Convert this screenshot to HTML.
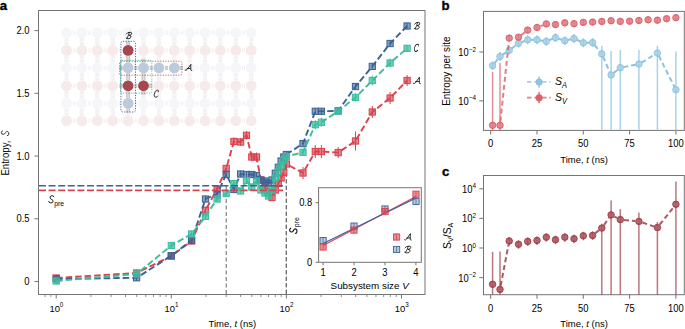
<!DOCTYPE html><html><head><meta charset="utf-8"><style>html,body{margin:0;padding:0;background:#fff;overflow:hidden}svg{display:block}</style></head><body><svg width="685" height="329" viewBox="0 0 685 329" font-family="Liberation Sans, sans-serif" fill="#000"><rect x="0" y="0" width="685" height="329" fill="#fff"/>
<rect x="72.85" y="30.7" width="2.79" height="4.2" fill="#f2f2f2"/>
<rect x="73.75" y="30.7" width="1" height="4.2" fill="#fafafa"/>
<rect x="64.5" y="38.2" width="4.2" height="6.8" fill="#f2f2f2"/>
<rect x="64.5" y="41.1" width="4.2" height="1" fill="#fafafa"/>
<rect x="88.24" y="30.7" width="2.79" height="4.2" fill="#f2f2f2"/>
<rect x="89.14" y="30.7" width="1" height="4.2" fill="#fafafa"/>
<rect x="79.8" y="38.2" width="4.2" height="6.8" fill="#f2f2f2"/>
<rect x="79.8" y="41.1" width="4.2" height="1" fill="#fafafa"/>
<rect x="103.63" y="30.7" width="2.79" height="4.2" fill="#f2f2f2"/>
<rect x="104.53" y="30.7" width="1" height="4.2" fill="#fafafa"/>
<rect x="95.2" y="38.2" width="4.2" height="6.8" fill="#f2f2f2"/>
<rect x="95.2" y="41.1" width="4.2" height="1" fill="#fafafa"/>
<rect x="119.02" y="30.7" width="2.79" height="4.2" fill="#f2f2f2"/>
<rect x="119.92" y="30.7" width="1" height="4.2" fill="#fafafa"/>
<rect x="110.6" y="38.2" width="4.2" height="6.8" fill="#f2f2f2"/>
<rect x="110.6" y="41.1" width="4.2" height="1" fill="#fafafa"/>
<rect x="134.41" y="30.7" width="2.79" height="4.2" fill="#f2f2f2"/>
<rect x="135.31" y="30.7" width="1" height="4.2" fill="#fafafa"/>
<rect x="126.0" y="38.2" width="4.2" height="6.8" fill="#f2f2f2"/>
<rect x="126.0" y="41.1" width="4.2" height="1" fill="#fafafa"/>
<rect x="149.80" y="30.7" width="2.79" height="4.2" fill="#f2f2f2"/>
<rect x="150.70" y="30.7" width="1" height="4.2" fill="#fafafa"/>
<rect x="141.4" y="38.2" width="4.2" height="6.8" fill="#f2f2f2"/>
<rect x="141.4" y="41.1" width="4.2" height="1" fill="#fafafa"/>
<rect x="165.19" y="30.7" width="2.79" height="4.2" fill="#f2f2f2"/>
<rect x="166.09" y="30.7" width="1" height="4.2" fill="#fafafa"/>
<rect x="156.8" y="38.2" width="4.2" height="6.8" fill="#f2f2f2"/>
<rect x="156.8" y="41.1" width="4.2" height="1" fill="#fafafa"/>
<rect x="180.58" y="30.7" width="2.79" height="4.2" fill="#f2f2f2"/>
<rect x="181.48" y="30.7" width="1" height="4.2" fill="#fafafa"/>
<rect x="172.2" y="38.2" width="4.2" height="6.8" fill="#f2f2f2"/>
<rect x="172.2" y="41.1" width="4.2" height="1" fill="#fafafa"/>
<rect x="195.97" y="30.7" width="2.79" height="4.2" fill="#f2f2f2"/>
<rect x="196.87" y="30.7" width="1" height="4.2" fill="#fafafa"/>
<rect x="187.6" y="38.2" width="4.2" height="6.8" fill="#f2f2f2"/>
<rect x="187.6" y="41.1" width="4.2" height="1" fill="#fafafa"/>
<rect x="211.36" y="30.7" width="2.79" height="4.2" fill="#f2f2f2"/>
<rect x="212.26" y="30.7" width="1" height="4.2" fill="#fafafa"/>
<rect x="203.0" y="38.2" width="4.2" height="6.8" fill="#f2f2f2"/>
<rect x="203.0" y="41.1" width="4.2" height="1" fill="#fafafa"/>
<rect x="226.75" y="30.7" width="2.79" height="4.2" fill="#f2f2f2"/>
<rect x="227.65" y="30.7" width="1" height="4.2" fill="#fafafa"/>
<rect x="218.3" y="38.2" width="4.2" height="6.8" fill="#f2f2f2"/>
<rect x="218.3" y="41.1" width="4.2" height="1" fill="#fafafa"/>
<rect x="242.14" y="30.7" width="2.79" height="4.2" fill="#f2f2f2"/>
<rect x="243.04" y="30.7" width="1" height="4.2" fill="#fafafa"/>
<rect x="233.7" y="38.2" width="4.2" height="6.8" fill="#f2f2f2"/>
<rect x="233.7" y="41.1" width="4.2" height="1" fill="#fafafa"/>
<rect x="249.1" y="38.2" width="4.2" height="6.8" fill="#f2f2f2"/>
<rect x="249.1" y="41.1" width="4.2" height="1" fill="#fafafa"/>
<rect x="72.85" y="48.3" width="2.79" height="4.2" fill="#f2f2f2"/>
<rect x="73.75" y="48.3" width="1" height="4.2" fill="#fafafa"/>
<rect x="64.5" y="55.8" width="4.2" height="6.7" fill="#f2f2f2"/>
<rect x="64.5" y="58.6" width="4.2" height="1" fill="#fafafa"/>
<rect x="88.24" y="48.3" width="2.79" height="4.2" fill="#f2f2f2"/>
<rect x="89.14" y="48.3" width="1" height="4.2" fill="#fafafa"/>
<rect x="79.8" y="55.8" width="4.2" height="6.7" fill="#f2f2f2"/>
<rect x="79.8" y="58.6" width="4.2" height="1" fill="#fafafa"/>
<rect x="103.63" y="48.3" width="2.79" height="4.2" fill="#f2f2f2"/>
<rect x="104.53" y="48.3" width="1" height="4.2" fill="#fafafa"/>
<rect x="95.2" y="55.8" width="4.2" height="6.7" fill="#f2f2f2"/>
<rect x="95.2" y="58.6" width="4.2" height="1" fill="#fafafa"/>
<rect x="119.02" y="48.3" width="2.79" height="4.2" fill="#f2f2f2"/>
<rect x="119.92" y="48.3" width="1" height="4.2" fill="#fafafa"/>
<rect x="110.6" y="55.8" width="4.2" height="6.7" fill="#f2f2f2"/>
<rect x="110.6" y="58.6" width="4.2" height="1" fill="#fafafa"/>
<rect x="134.41" y="48.3" width="2.79" height="4.2" fill="#f2f2f2"/>
<rect x="135.31" y="48.3" width="1" height="4.2" fill="#fafafa"/>
<rect x="126.0" y="55.8" width="4.2" height="6.7" fill="#f2f2f2"/>
<rect x="126.0" y="58.6" width="4.2" height="1" fill="#fafafa"/>
<rect x="149.80" y="48.3" width="2.79" height="4.2" fill="#f2f2f2"/>
<rect x="150.70" y="48.3" width="1" height="4.2" fill="#fafafa"/>
<rect x="141.4" y="55.8" width="4.2" height="6.7" fill="#f2f2f2"/>
<rect x="141.4" y="58.6" width="4.2" height="1" fill="#fafafa"/>
<rect x="165.19" y="48.3" width="2.79" height="4.2" fill="#f2f2f2"/>
<rect x="166.09" y="48.3" width="1" height="4.2" fill="#fafafa"/>
<rect x="156.8" y="55.8" width="4.2" height="6.7" fill="#f2f2f2"/>
<rect x="156.8" y="58.6" width="4.2" height="1" fill="#fafafa"/>
<rect x="180.58" y="48.3" width="2.79" height="4.2" fill="#f2f2f2"/>
<rect x="181.48" y="48.3" width="1" height="4.2" fill="#fafafa"/>
<rect x="172.2" y="55.8" width="4.2" height="6.7" fill="#f2f2f2"/>
<rect x="172.2" y="58.6" width="4.2" height="1" fill="#fafafa"/>
<rect x="195.97" y="48.3" width="2.79" height="4.2" fill="#f2f2f2"/>
<rect x="196.87" y="48.3" width="1" height="4.2" fill="#fafafa"/>
<rect x="187.6" y="55.8" width="4.2" height="6.7" fill="#f2f2f2"/>
<rect x="187.6" y="58.6" width="4.2" height="1" fill="#fafafa"/>
<rect x="211.36" y="48.3" width="2.79" height="4.2" fill="#f2f2f2"/>
<rect x="212.26" y="48.3" width="1" height="4.2" fill="#fafafa"/>
<rect x="203.0" y="55.8" width="4.2" height="6.7" fill="#f2f2f2"/>
<rect x="203.0" y="58.6" width="4.2" height="1" fill="#fafafa"/>
<rect x="226.75" y="48.3" width="2.79" height="4.2" fill="#f2f2f2"/>
<rect x="227.65" y="48.3" width="1" height="4.2" fill="#fafafa"/>
<rect x="218.3" y="55.8" width="4.2" height="6.7" fill="#f2f2f2"/>
<rect x="218.3" y="58.6" width="4.2" height="1" fill="#fafafa"/>
<rect x="242.14" y="48.3" width="2.79" height="4.2" fill="#f2f2f2"/>
<rect x="243.04" y="48.3" width="1" height="4.2" fill="#fafafa"/>
<rect x="233.7" y="55.8" width="4.2" height="6.7" fill="#f2f2f2"/>
<rect x="233.7" y="58.6" width="4.2" height="1" fill="#fafafa"/>
<rect x="249.1" y="55.8" width="4.2" height="6.7" fill="#f2f2f2"/>
<rect x="249.1" y="58.6" width="4.2" height="1" fill="#fafafa"/>
<rect x="72.85" y="65.8" width="2.79" height="4.2" fill="#f2f2f2"/>
<rect x="73.75" y="65.8" width="1" height="4.2" fill="#fafafa"/>
<rect x="64.5" y="73.3" width="4.2" height="7.1" fill="#f2f2f2"/>
<rect x="64.5" y="76.4" width="4.2" height="1" fill="#fafafa"/>
<rect x="88.24" y="65.8" width="2.79" height="4.2" fill="#f2f2f2"/>
<rect x="89.14" y="65.8" width="1" height="4.2" fill="#fafafa"/>
<rect x="79.8" y="73.3" width="4.2" height="7.1" fill="#f2f2f2"/>
<rect x="79.8" y="76.4" width="4.2" height="1" fill="#fafafa"/>
<rect x="103.63" y="65.8" width="2.79" height="4.2" fill="#f2f2f2"/>
<rect x="104.53" y="65.8" width="1" height="4.2" fill="#fafafa"/>
<rect x="95.2" y="73.3" width="4.2" height="7.1" fill="#f2f2f2"/>
<rect x="95.2" y="76.4" width="4.2" height="1" fill="#fafafa"/>
<rect x="119.02" y="65.8" width="2.79" height="4.2" fill="#f2f2f2"/>
<rect x="119.92" y="65.8" width="1" height="4.2" fill="#fafafa"/>
<rect x="110.6" y="73.3" width="4.2" height="7.1" fill="#f2f2f2"/>
<rect x="110.6" y="76.4" width="4.2" height="1" fill="#fafafa"/>
<rect x="134.41" y="65.8" width="2.79" height="4.2" fill="#f2f2f2"/>
<rect x="135.31" y="65.8" width="1" height="4.2" fill="#fafafa"/>
<rect x="126.0" y="73.3" width="4.2" height="7.1" fill="#f2f2f2"/>
<rect x="126.0" y="76.4" width="4.2" height="1" fill="#fafafa"/>
<rect x="149.80" y="65.8" width="2.79" height="4.2" fill="#f2f2f2"/>
<rect x="150.70" y="65.8" width="1" height="4.2" fill="#fafafa"/>
<rect x="141.4" y="73.3" width="4.2" height="7.1" fill="#f2f2f2"/>
<rect x="141.4" y="76.4" width="4.2" height="1" fill="#fafafa"/>
<rect x="165.19" y="65.8" width="2.79" height="4.2" fill="#f2f2f2"/>
<rect x="166.09" y="65.8" width="1" height="4.2" fill="#fafafa"/>
<rect x="156.8" y="73.3" width="4.2" height="7.1" fill="#f2f2f2"/>
<rect x="156.8" y="76.4" width="4.2" height="1" fill="#fafafa"/>
<rect x="180.58" y="65.8" width="2.79" height="4.2" fill="#f2f2f2"/>
<rect x="181.48" y="65.8" width="1" height="4.2" fill="#fafafa"/>
<rect x="172.2" y="73.3" width="4.2" height="7.1" fill="#f2f2f2"/>
<rect x="172.2" y="76.4" width="4.2" height="1" fill="#fafafa"/>
<rect x="195.97" y="65.8" width="2.79" height="4.2" fill="#f2f2f2"/>
<rect x="196.87" y="65.8" width="1" height="4.2" fill="#fafafa"/>
<rect x="187.6" y="73.3" width="4.2" height="7.1" fill="#f2f2f2"/>
<rect x="187.6" y="76.4" width="4.2" height="1" fill="#fafafa"/>
<rect x="211.36" y="65.8" width="2.79" height="4.2" fill="#f2f2f2"/>
<rect x="212.26" y="65.8" width="1" height="4.2" fill="#fafafa"/>
<rect x="203.0" y="73.3" width="4.2" height="7.1" fill="#f2f2f2"/>
<rect x="203.0" y="76.4" width="4.2" height="1" fill="#fafafa"/>
<rect x="226.75" y="65.8" width="2.79" height="4.2" fill="#f2f2f2"/>
<rect x="227.65" y="65.8" width="1" height="4.2" fill="#fafafa"/>
<rect x="218.3" y="73.3" width="4.2" height="7.1" fill="#f2f2f2"/>
<rect x="218.3" y="76.4" width="4.2" height="1" fill="#fafafa"/>
<rect x="242.14" y="65.8" width="2.79" height="4.2" fill="#f2f2f2"/>
<rect x="243.04" y="65.8" width="1" height="4.2" fill="#fafafa"/>
<rect x="233.7" y="73.3" width="4.2" height="7.1" fill="#f2f2f2"/>
<rect x="233.7" y="76.4" width="4.2" height="1" fill="#fafafa"/>
<rect x="249.1" y="73.3" width="4.2" height="7.1" fill="#f2f2f2"/>
<rect x="249.1" y="76.4" width="4.2" height="1" fill="#fafafa"/>
<rect x="72.85" y="83.7" width="2.79" height="4.2" fill="#f2f2f2"/>
<rect x="73.75" y="83.7" width="1" height="4.2" fill="#fafafa"/>
<rect x="64.5" y="91.2" width="4.2" height="6.8" fill="#f2f2f2"/>
<rect x="64.5" y="94.1" width="4.2" height="1" fill="#fafafa"/>
<rect x="88.24" y="83.7" width="2.79" height="4.2" fill="#f2f2f2"/>
<rect x="89.14" y="83.7" width="1" height="4.2" fill="#fafafa"/>
<rect x="79.8" y="91.2" width="4.2" height="6.8" fill="#f2f2f2"/>
<rect x="79.8" y="94.1" width="4.2" height="1" fill="#fafafa"/>
<rect x="103.63" y="83.7" width="2.79" height="4.2" fill="#f2f2f2"/>
<rect x="104.53" y="83.7" width="1" height="4.2" fill="#fafafa"/>
<rect x="95.2" y="91.2" width="4.2" height="6.8" fill="#f2f2f2"/>
<rect x="95.2" y="94.1" width="4.2" height="1" fill="#fafafa"/>
<rect x="119.02" y="83.7" width="2.79" height="4.2" fill="#f2f2f2"/>
<rect x="119.92" y="83.7" width="1" height="4.2" fill="#fafafa"/>
<rect x="110.6" y="91.2" width="4.2" height="6.8" fill="#f2f2f2"/>
<rect x="110.6" y="94.1" width="4.2" height="1" fill="#fafafa"/>
<rect x="134.41" y="83.7" width="2.79" height="4.2" fill="#f2f2f2"/>
<rect x="135.31" y="83.7" width="1" height="4.2" fill="#fafafa"/>
<rect x="126.0" y="91.2" width="4.2" height="6.8" fill="#f2f2f2"/>
<rect x="126.0" y="94.1" width="4.2" height="1" fill="#fafafa"/>
<rect x="149.80" y="83.7" width="2.79" height="4.2" fill="#f2f2f2"/>
<rect x="150.70" y="83.7" width="1" height="4.2" fill="#fafafa"/>
<rect x="141.4" y="91.2" width="4.2" height="6.8" fill="#f2f2f2"/>
<rect x="141.4" y="94.1" width="4.2" height="1" fill="#fafafa"/>
<rect x="165.19" y="83.7" width="2.79" height="4.2" fill="#f2f2f2"/>
<rect x="166.09" y="83.7" width="1" height="4.2" fill="#fafafa"/>
<rect x="156.8" y="91.2" width="4.2" height="6.8" fill="#f2f2f2"/>
<rect x="156.8" y="94.1" width="4.2" height="1" fill="#fafafa"/>
<rect x="180.58" y="83.7" width="2.79" height="4.2" fill="#f2f2f2"/>
<rect x="181.48" y="83.7" width="1" height="4.2" fill="#fafafa"/>
<rect x="172.2" y="91.2" width="4.2" height="6.8" fill="#f2f2f2"/>
<rect x="172.2" y="94.1" width="4.2" height="1" fill="#fafafa"/>
<rect x="195.97" y="83.7" width="2.79" height="4.2" fill="#f2f2f2"/>
<rect x="196.87" y="83.7" width="1" height="4.2" fill="#fafafa"/>
<rect x="187.6" y="91.2" width="4.2" height="6.8" fill="#f2f2f2"/>
<rect x="187.6" y="94.1" width="4.2" height="1" fill="#fafafa"/>
<rect x="211.36" y="83.7" width="2.79" height="4.2" fill="#f2f2f2"/>
<rect x="212.26" y="83.7" width="1" height="4.2" fill="#fafafa"/>
<rect x="203.0" y="91.2" width="4.2" height="6.8" fill="#f2f2f2"/>
<rect x="203.0" y="94.1" width="4.2" height="1" fill="#fafafa"/>
<rect x="226.75" y="83.7" width="2.79" height="4.2" fill="#f2f2f2"/>
<rect x="227.65" y="83.7" width="1" height="4.2" fill="#fafafa"/>
<rect x="218.3" y="91.2" width="4.2" height="6.8" fill="#f2f2f2"/>
<rect x="218.3" y="94.1" width="4.2" height="1" fill="#fafafa"/>
<rect x="242.14" y="83.7" width="2.79" height="4.2" fill="#f2f2f2"/>
<rect x="243.04" y="83.7" width="1" height="4.2" fill="#fafafa"/>
<rect x="233.7" y="91.2" width="4.2" height="6.8" fill="#f2f2f2"/>
<rect x="233.7" y="94.1" width="4.2" height="1" fill="#fafafa"/>
<rect x="249.1" y="91.2" width="4.2" height="6.8" fill="#f2f2f2"/>
<rect x="249.1" y="94.1" width="4.2" height="1" fill="#fafafa"/>
<rect x="72.85" y="101.3" width="2.79" height="4.2" fill="#f2f2f2"/>
<rect x="73.75" y="101.3" width="1" height="4.2" fill="#fafafa"/>
<rect x="64.5" y="108.8" width="4.2" height="6.5" fill="#f2f2f2"/>
<rect x="64.5" y="111.6" width="4.2" height="1" fill="#fafafa"/>
<rect x="88.24" y="101.3" width="2.79" height="4.2" fill="#f2f2f2"/>
<rect x="89.14" y="101.3" width="1" height="4.2" fill="#fafafa"/>
<rect x="79.8" y="108.8" width="4.2" height="6.5" fill="#f2f2f2"/>
<rect x="79.8" y="111.6" width="4.2" height="1" fill="#fafafa"/>
<rect x="103.63" y="101.3" width="2.79" height="4.2" fill="#f2f2f2"/>
<rect x="104.53" y="101.3" width="1" height="4.2" fill="#fafafa"/>
<rect x="95.2" y="108.8" width="4.2" height="6.5" fill="#f2f2f2"/>
<rect x="95.2" y="111.6" width="4.2" height="1" fill="#fafafa"/>
<rect x="119.02" y="101.3" width="2.79" height="4.2" fill="#f2f2f2"/>
<rect x="119.92" y="101.3" width="1" height="4.2" fill="#fafafa"/>
<rect x="110.6" y="108.8" width="4.2" height="6.5" fill="#f2f2f2"/>
<rect x="110.6" y="111.6" width="4.2" height="1" fill="#fafafa"/>
<rect x="134.41" y="101.3" width="2.79" height="4.2" fill="#f2f2f2"/>
<rect x="135.31" y="101.3" width="1" height="4.2" fill="#fafafa"/>
<rect x="126.0" y="108.8" width="4.2" height="6.5" fill="#f2f2f2"/>
<rect x="126.0" y="111.6" width="4.2" height="1" fill="#fafafa"/>
<rect x="149.80" y="101.3" width="2.79" height="4.2" fill="#f2f2f2"/>
<rect x="150.70" y="101.3" width="1" height="4.2" fill="#fafafa"/>
<rect x="141.4" y="108.8" width="4.2" height="6.5" fill="#f2f2f2"/>
<rect x="141.4" y="111.6" width="4.2" height="1" fill="#fafafa"/>
<rect x="165.19" y="101.3" width="2.79" height="4.2" fill="#f2f2f2"/>
<rect x="166.09" y="101.3" width="1" height="4.2" fill="#fafafa"/>
<rect x="156.8" y="108.8" width="4.2" height="6.5" fill="#f2f2f2"/>
<rect x="156.8" y="111.6" width="4.2" height="1" fill="#fafafa"/>
<rect x="180.58" y="101.3" width="2.79" height="4.2" fill="#f2f2f2"/>
<rect x="181.48" y="101.3" width="1" height="4.2" fill="#fafafa"/>
<rect x="172.2" y="108.8" width="4.2" height="6.5" fill="#f2f2f2"/>
<rect x="172.2" y="111.6" width="4.2" height="1" fill="#fafafa"/>
<rect x="195.97" y="101.3" width="2.79" height="4.2" fill="#f2f2f2"/>
<rect x="196.87" y="101.3" width="1" height="4.2" fill="#fafafa"/>
<rect x="187.6" y="108.8" width="4.2" height="6.5" fill="#f2f2f2"/>
<rect x="187.6" y="111.6" width="4.2" height="1" fill="#fafafa"/>
<rect x="211.36" y="101.3" width="2.79" height="4.2" fill="#f2f2f2"/>
<rect x="212.26" y="101.3" width="1" height="4.2" fill="#fafafa"/>
<rect x="203.0" y="108.8" width="4.2" height="6.5" fill="#f2f2f2"/>
<rect x="203.0" y="111.6" width="4.2" height="1" fill="#fafafa"/>
<rect x="226.75" y="101.3" width="2.79" height="4.2" fill="#f2f2f2"/>
<rect x="227.65" y="101.3" width="1" height="4.2" fill="#fafafa"/>
<rect x="218.3" y="108.8" width="4.2" height="6.5" fill="#f2f2f2"/>
<rect x="218.3" y="111.6" width="4.2" height="1" fill="#fafafa"/>
<rect x="242.14" y="101.3" width="2.79" height="4.2" fill="#f2f2f2"/>
<rect x="243.04" y="101.3" width="1" height="4.2" fill="#fafafa"/>
<rect x="233.7" y="108.8" width="4.2" height="6.5" fill="#f2f2f2"/>
<rect x="233.7" y="111.6" width="4.2" height="1" fill="#fafafa"/>
<rect x="249.1" y="108.8" width="4.2" height="6.5" fill="#f2f2f2"/>
<rect x="249.1" y="111.6" width="4.2" height="1" fill="#fafafa"/>
<rect x="72.85" y="118.6" width="2.79" height="4.2" fill="#f2f2f2"/>
<rect x="73.75" y="118.6" width="1" height="4.2" fill="#fafafa"/>
<rect x="88.24" y="118.6" width="2.79" height="4.2" fill="#f2f2f2"/>
<rect x="89.14" y="118.6" width="1" height="4.2" fill="#fafafa"/>
<rect x="103.63" y="118.6" width="2.79" height="4.2" fill="#f2f2f2"/>
<rect x="104.53" y="118.6" width="1" height="4.2" fill="#fafafa"/>
<rect x="119.02" y="118.6" width="2.79" height="4.2" fill="#f2f2f2"/>
<rect x="119.92" y="118.6" width="1" height="4.2" fill="#fafafa"/>
<rect x="134.41" y="118.6" width="2.79" height="4.2" fill="#f2f2f2"/>
<rect x="135.31" y="118.6" width="1" height="4.2" fill="#fafafa"/>
<rect x="149.80" y="118.6" width="2.79" height="4.2" fill="#f2f2f2"/>
<rect x="150.70" y="118.6" width="1" height="4.2" fill="#fafafa"/>
<rect x="165.19" y="118.6" width="2.79" height="4.2" fill="#f2f2f2"/>
<rect x="166.09" y="118.6" width="1" height="4.2" fill="#fafafa"/>
<rect x="180.58" y="118.6" width="2.79" height="4.2" fill="#f2f2f2"/>
<rect x="181.48" y="118.6" width="1" height="4.2" fill="#fafafa"/>
<rect x="195.97" y="118.6" width="2.79" height="4.2" fill="#f2f2f2"/>
<rect x="196.87" y="118.6" width="1" height="4.2" fill="#fafafa"/>
<rect x="211.36" y="118.6" width="2.79" height="4.2" fill="#f2f2f2"/>
<rect x="212.26" y="118.6" width="1" height="4.2" fill="#fafafa"/>
<rect x="226.75" y="118.6" width="2.79" height="4.2" fill="#f2f2f2"/>
<rect x="227.65" y="118.6" width="1" height="4.2" fill="#fafafa"/>
<rect x="242.14" y="118.6" width="2.79" height="4.2" fill="#f2f2f2"/>
<rect x="243.04" y="118.6" width="1" height="4.2" fill="#fafafa"/>
<circle cx="66.5" cy="32.8" r="5.4" fill="#f4f6f9"/>
<circle cx="81.9" cy="32.8" r="5.4" fill="#f4f6f9"/>
<circle cx="97.3" cy="32.8" r="5.4" fill="#f4f6f9"/>
<circle cx="112.7" cy="32.8" r="5.4" fill="#f4f6f9"/>
<circle cx="128.1" cy="32.8" r="5.4" fill="#f4f6f9"/>
<circle cx="143.5" cy="32.8" r="5.4" fill="#f4f6f9"/>
<circle cx="158.9" cy="32.8" r="5.4" fill="#f4f6f9"/>
<circle cx="174.3" cy="32.8" r="5.4" fill="#f4f6f9"/>
<circle cx="189.7" cy="32.8" r="5.4" fill="#f4f6f9"/>
<circle cx="205.1" cy="32.8" r="5.4" fill="#f4f6f9"/>
<circle cx="220.4" cy="32.8" r="5.4" fill="#f4f6f9"/>
<circle cx="235.8" cy="32.8" r="5.4" fill="#f4f6f9"/>
<circle cx="251.2" cy="32.8" r="5.4" fill="#f4f6f9"/>
<circle cx="66.5" cy="50.4" r="5.4" fill="#f6eaea"/>
<circle cx="81.9" cy="50.4" r="5.4" fill="#f6eaea"/>
<circle cx="97.3" cy="50.4" r="5.4" fill="#f6eaea"/>
<circle cx="112.7" cy="50.4" r="5.4" fill="#f6eaea"/>
<circle cx="128.1" cy="50.4" r="5.4" fill="#f6eaea"/>
<circle cx="143.5" cy="50.4" r="5.4" fill="#f6eaea"/>
<circle cx="158.9" cy="50.4" r="5.4" fill="#f6eaea"/>
<circle cx="174.3" cy="50.4" r="5.4" fill="#f6eaea"/>
<circle cx="189.7" cy="50.4" r="5.4" fill="#f6eaea"/>
<circle cx="205.1" cy="50.4" r="5.4" fill="#f6eaea"/>
<circle cx="220.4" cy="50.4" r="5.4" fill="#f6eaea"/>
<circle cx="235.8" cy="50.4" r="5.4" fill="#f6eaea"/>
<circle cx="251.2" cy="50.4" r="5.4" fill="#f6eaea"/>
<circle cx="66.5" cy="67.9" r="5.4" fill="#f4f6f9"/>
<circle cx="81.9" cy="67.9" r="5.4" fill="#f4f6f9"/>
<circle cx="97.3" cy="67.9" r="5.4" fill="#f4f6f9"/>
<circle cx="112.7" cy="67.9" r="5.4" fill="#f4f6f9"/>
<circle cx="128.1" cy="67.9" r="5.4" fill="#f4f6f9"/>
<circle cx="143.5" cy="67.9" r="5.4" fill="#f4f6f9"/>
<circle cx="158.9" cy="67.9" r="5.4" fill="#f4f6f9"/>
<circle cx="174.3" cy="67.9" r="5.4" fill="#f4f6f9"/>
<circle cx="189.7" cy="67.9" r="5.4" fill="#f4f6f9"/>
<circle cx="205.1" cy="67.9" r="5.4" fill="#f4f6f9"/>
<circle cx="220.4" cy="67.9" r="5.4" fill="#f4f6f9"/>
<circle cx="235.8" cy="67.9" r="5.4" fill="#f4f6f9"/>
<circle cx="251.2" cy="67.9" r="5.4" fill="#f4f6f9"/>
<circle cx="66.5" cy="85.8" r="5.4" fill="#f6eaea"/>
<circle cx="81.9" cy="85.8" r="5.4" fill="#f6eaea"/>
<circle cx="97.3" cy="85.8" r="5.4" fill="#f6eaea"/>
<circle cx="112.7" cy="85.8" r="5.4" fill="#f6eaea"/>
<circle cx="128.1" cy="85.8" r="5.4" fill="#f6eaea"/>
<circle cx="143.5" cy="85.8" r="5.4" fill="#f6eaea"/>
<circle cx="158.9" cy="85.8" r="5.4" fill="#f6eaea"/>
<circle cx="174.3" cy="85.8" r="5.4" fill="#f6eaea"/>
<circle cx="189.7" cy="85.8" r="5.4" fill="#f6eaea"/>
<circle cx="205.1" cy="85.8" r="5.4" fill="#f6eaea"/>
<circle cx="220.4" cy="85.8" r="5.4" fill="#f6eaea"/>
<circle cx="235.8" cy="85.8" r="5.4" fill="#f6eaea"/>
<circle cx="251.2" cy="85.8" r="5.4" fill="#f6eaea"/>
<circle cx="66.5" cy="103.4" r="5.4" fill="#f4f6f9"/>
<circle cx="81.9" cy="103.4" r="5.4" fill="#f4f6f9"/>
<circle cx="97.3" cy="103.4" r="5.4" fill="#f4f6f9"/>
<circle cx="112.7" cy="103.4" r="5.4" fill="#f4f6f9"/>
<circle cx="128.1" cy="103.4" r="5.4" fill="#f4f6f9"/>
<circle cx="143.5" cy="103.4" r="5.4" fill="#f4f6f9"/>
<circle cx="158.9" cy="103.4" r="5.4" fill="#f4f6f9"/>
<circle cx="174.3" cy="103.4" r="5.4" fill="#f4f6f9"/>
<circle cx="189.7" cy="103.4" r="5.4" fill="#f4f6f9"/>
<circle cx="205.1" cy="103.4" r="5.4" fill="#f4f6f9"/>
<circle cx="220.4" cy="103.4" r="5.4" fill="#f4f6f9"/>
<circle cx="235.8" cy="103.4" r="5.4" fill="#f4f6f9"/>
<circle cx="251.2" cy="103.4" r="5.4" fill="#f4f6f9"/>
<circle cx="66.5" cy="120.7" r="5.4" fill="#f6eaea"/>
<circle cx="81.9" cy="120.7" r="5.4" fill="#f6eaea"/>
<circle cx="97.3" cy="120.7" r="5.4" fill="#f6eaea"/>
<circle cx="112.7" cy="120.7" r="5.4" fill="#f6eaea"/>
<circle cx="128.1" cy="120.7" r="5.4" fill="#f6eaea"/>
<circle cx="143.5" cy="120.7" r="5.4" fill="#f6eaea"/>
<circle cx="158.9" cy="120.7" r="5.4" fill="#f6eaea"/>
<circle cx="174.3" cy="120.7" r="5.4" fill="#f6eaea"/>
<circle cx="189.7" cy="120.7" r="5.4" fill="#f6eaea"/>
<circle cx="205.1" cy="120.7" r="5.4" fill="#f6eaea"/>
<circle cx="220.4" cy="120.7" r="5.4" fill="#f6eaea"/>
<circle cx="235.8" cy="120.7" r="5.4" fill="#f6eaea"/>
<circle cx="251.2" cy="120.7" r="5.4" fill="#f6eaea"/>
<rect x="126.1" y="55.8" width="4" height="6.7" fill="#c9c9c9"/>
<rect x="127.4" y="55.8" width="1.4" height="6.7" fill="#dedede"/>
<rect x="126.1" y="73.3" width="4" height="7.1" fill="#c9c9c9"/>
<rect x="127.4" y="73.3" width="1.4" height="7.1" fill="#dedede"/>
<rect x="126.1" y="91.2" width="4" height="6.8" fill="#c9c9c9"/>
<rect x="127.4" y="91.2" width="1.4" height="6.8" fill="#dedede"/>
<rect x="126.1" y="41.4" width="4" height="3.6" fill="#c9c9c9"/>
<rect x="127.4" y="41.4" width="1.4" height="3.6" fill="#dedede"/>
<rect x="126.1" y="108.8" width="4" height="3.6" fill="#c9c9c9"/>
<rect x="127.4" y="108.8" width="1.4" height="3.6" fill="#dedede"/>
<rect x="141.5" y="73.3" width="4" height="7.1" fill="#c9c9c9"/>
<rect x="142.8" y="73.3" width="1.4" height="7.1" fill="#dedede"/>
<rect x="141.5" y="58.9" width="4" height="3.6" fill="#c9c9c9"/>
<rect x="142.8" y="58.9" width="1.4" height="3.6" fill="#dedede"/>
<rect x="141.5" y="91.2" width="4" height="3.6" fill="#c9c9c9"/>
<rect x="142.8" y="91.2" width="1.4" height="3.6" fill="#dedede"/>
<rect x="134.3" y="65.9" width="3.0" height="4" fill="#c2c2c2"/>
<rect x="134.3" y="67.3" width="3.0" height="1.2" fill="#dcdcdc"/>
<rect x="149.7" y="65.9" width="3.0" height="4" fill="#c2c2c2"/>
<rect x="149.7" y="67.3" width="3.0" height="1.2" fill="#dcdcdc"/>
<rect x="165.1" y="65.9" width="3.0" height="4" fill="#c2c2c2"/>
<rect x="165.1" y="67.3" width="3.0" height="1.2" fill="#dcdcdc"/>
<rect x="119.5" y="65.9" width="3.2" height="4" fill="#c2c2c2"/>
<rect x="119.5" y="67.3" width="3.2" height="1.2" fill="#dcdcdc"/>
<rect x="179.7" y="65.9" width="3.2" height="4" fill="#c2c2c2"/>
<rect x="179.7" y="67.3" width="3.2" height="1.2" fill="#dcdcdc"/>
<rect x="134.3" y="83.8" width="3.0" height="4" fill="#c2c2c2"/>
<rect x="134.3" y="85.2" width="3.0" height="1.2" fill="#dcdcdc"/>
<rect x="119.5" y="83.8" width="3.2" height="4" fill="#c2c2c2"/>
<rect x="119.5" y="85.2" width="3.2" height="1.2" fill="#dcdcdc"/>
<rect x="148.9" y="83.8" width="3.2" height="4" fill="#c2c2c2"/>
<rect x="148.9" y="85.2" width="3.2" height="1.2" fill="#dcdcdc"/>
<circle cx="128.1" cy="50.4" r="5.4" fill="#a8464f"/>
<circle cx="128.1" cy="67.9" r="5.4" fill="#bccbdc"/>
<circle cx="128.1" cy="85.8" r="5.4" fill="#a8464f"/>
<circle cx="128.1" cy="103.4" r="5.4" fill="#bccbdc"/>
<circle cx="143.5" cy="67.9" r="5.4" fill="#bccbdc"/>
<circle cx="158.9" cy="67.9" r="5.4" fill="#bccbdc"/>
<circle cx="174.3" cy="67.9" r="5.4" fill="#bccbdc"/>
<circle cx="143.5" cy="85.8" r="5.4" fill="#a8464f"/>
<rect x="119.6" y="61.2" width="62.3" height="14" rx="1.5" fill="none" stroke="#d9434e" stroke-width="0.8" stroke-dasharray="1.3 1.3"/>
<rect x="120.5" y="60.4" width="31.3" height="32.8" rx="1.5" fill="none" stroke="#3dbd9f" stroke-width="0.8" stroke-dasharray="1.3 1.3"/>
<rect x="120.9" y="41.3" width="14.6" height="70.7" rx="2" fill="none" stroke="#3d6396" stroke-width="0.9" stroke-dasharray="1.3 1.3"/>
<g transform="translate(125.90,32.00) scale(0.630,0.690)" fill="none" stroke="#111" stroke-width="1.288" stroke-linecap="round" stroke-linejoin="round"><path d="M0.8,2.8 Q2.2,0.2 6.6,0.3 Q9.6,0.4 9.1,2.6 Q8.6,4.6 5,4.8 Q8.7,4.9 8.1,7.4 Q7.3,9.8 3.5,9.7 Q1,9.6 0.3,8.8"/><path d="M5.4,0.8 Q4.6,5.2 1.4,9.3"/></g>
<g transform="translate(184.90,64.10) scale(0.700,0.680)" fill="none" stroke="#111" stroke-width="1.232" stroke-linecap="round" stroke-linejoin="round"><path d="M0.2,9.0 Q1.6,10 3.4,7.6 L8.6,0.3 Q8.2,5 8.4,8.6 Q8.6,9.7 9.8,9.3"/><path d="M3.2,6.6 L8.3,6.2"/></g>
<g transform="translate(153.60,89.90) scale(0.560,0.770)" fill="none" stroke="#111" stroke-width="1.278" stroke-linecap="round" stroke-linejoin="round"><path d="M8.6,2.4 Q9.4,0.2 7.0,0.3 Q2.2,0.7 1.0,5.8 Q0.4,9.8 4.0,9.6 Q6.0,9.4 7.4,8.0"/></g>
<rect x="38.5" y="10.5" width="386.5" height="284.0" fill="none" stroke="#747474" stroke-width="1"/>
<line x1="34.50" y1="281.50" x2="38.50" y2="281.50" stroke="#747474" stroke-width="1" />
<text transform="translate(29.60,285.00) scale(1,1.17)" font-size="9.4" text-anchor="end" >0</text>
<line x1="34.50" y1="218.78" x2="38.50" y2="218.78" stroke="#747474" stroke-width="1" />
<text transform="translate(29.60,222.28) scale(1,1.17)" font-size="9.4" text-anchor="end" >0.5</text>
<line x1="34.50" y1="156.05" x2="38.50" y2="156.05" stroke="#747474" stroke-width="1" />
<text transform="translate(29.60,159.55) scale(1,1.17)" font-size="9.4" text-anchor="end" >1.0</text>
<line x1="34.50" y1="93.32" x2="38.50" y2="93.32" stroke="#747474" stroke-width="1" />
<text transform="translate(29.60,96.82) scale(1,1.17)" font-size="9.4" text-anchor="end" >1.5</text>
<line x1="34.50" y1="30.60" x2="38.50" y2="30.60" stroke="#747474" stroke-width="1" />
<text transform="translate(29.60,34.10) scale(1,1.17)" font-size="9.4" text-anchor="end" >2.0</text>
<line x1="56.20" y1="294.50" x2="56.20" y2="298.50" stroke="#747474" stroke-width="1" />
<text transform="translate(56.40,311.8) scale(1,1.05)" font-size="9.4" text-anchor="middle">10<tspan dy="-4.4" font-size="6.3">0</tspan></text>
<line x1="90.85" y1="294.50" x2="90.85" y2="297.00" stroke="#747474" stroke-width="0.8" />
<line x1="111.12" y1="294.50" x2="111.12" y2="297.00" stroke="#747474" stroke-width="0.8" />
<line x1="125.50" y1="294.50" x2="125.50" y2="297.00" stroke="#747474" stroke-width="0.8" />
<line x1="136.65" y1="294.50" x2="136.65" y2="297.00" stroke="#747474" stroke-width="0.8" />
<line x1="145.77" y1="294.50" x2="145.77" y2="297.00" stroke="#747474" stroke-width="0.8" />
<line x1="153.47" y1="294.50" x2="153.47" y2="297.00" stroke="#747474" stroke-width="0.8" />
<line x1="160.15" y1="294.50" x2="160.15" y2="297.00" stroke="#747474" stroke-width="0.8" />
<line x1="166.03" y1="294.50" x2="166.03" y2="297.00" stroke="#747474" stroke-width="0.8" />
<line x1="171.30" y1="294.50" x2="171.30" y2="298.50" stroke="#747474" stroke-width="1" />
<text transform="translate(171.50,311.8) scale(1,1.05)" font-size="9.4" text-anchor="middle">10<tspan dy="-4.4" font-size="6.3">1</tspan></text>
<line x1="205.95" y1="294.50" x2="205.95" y2="297.00" stroke="#747474" stroke-width="0.8" />
<line x1="226.22" y1="294.50" x2="226.22" y2="297.00" stroke="#747474" stroke-width="0.8" />
<line x1="240.60" y1="294.50" x2="240.60" y2="297.00" stroke="#747474" stroke-width="0.8" />
<line x1="251.75" y1="294.50" x2="251.75" y2="297.00" stroke="#747474" stroke-width="0.8" />
<line x1="260.87" y1="294.50" x2="260.87" y2="297.00" stroke="#747474" stroke-width="0.8" />
<line x1="268.57" y1="294.50" x2="268.57" y2="297.00" stroke="#747474" stroke-width="0.8" />
<line x1="275.25" y1="294.50" x2="275.25" y2="297.00" stroke="#747474" stroke-width="0.8" />
<line x1="281.13" y1="294.50" x2="281.13" y2="297.00" stroke="#747474" stroke-width="0.8" />
<line x1="286.40" y1="294.50" x2="286.40" y2="298.50" stroke="#747474" stroke-width="1" />
<text transform="translate(286.60,311.8) scale(1,1.05)" font-size="9.4" text-anchor="middle">10<tspan dy="-4.4" font-size="6.3">2</tspan></text>
<line x1="321.05" y1="294.50" x2="321.05" y2="297.00" stroke="#747474" stroke-width="0.8" />
<line x1="341.32" y1="294.50" x2="341.32" y2="297.00" stroke="#747474" stroke-width="0.8" />
<line x1="355.70" y1="294.50" x2="355.70" y2="297.00" stroke="#747474" stroke-width="0.8" />
<line x1="366.85" y1="294.50" x2="366.85" y2="297.00" stroke="#747474" stroke-width="0.8" />
<line x1="375.97" y1="294.50" x2="375.97" y2="297.00" stroke="#747474" stroke-width="0.8" />
<line x1="383.67" y1="294.50" x2="383.67" y2="297.00" stroke="#747474" stroke-width="0.8" />
<line x1="390.35" y1="294.50" x2="390.35" y2="297.00" stroke="#747474" stroke-width="0.8" />
<line x1="396.23" y1="294.50" x2="396.23" y2="297.00" stroke="#747474" stroke-width="0.8" />
<line x1="401.50" y1="294.50" x2="401.50" y2="298.50" stroke="#747474" stroke-width="1" />
<text transform="translate(401.70,311.8) scale(1,1.05)" font-size="9.4" text-anchor="middle">10<tspan dy="-4.4" font-size="6.3">3</tspan></text>
<line x1="45.05" y1="294.50" x2="45.05" y2="297.00" stroke="#747474" stroke-width="0.8" />
<line x1="50.93" y1="294.50" x2="50.93" y2="297.00" stroke="#747474" stroke-width="0.8" />
<text transform="translate(232.30,327.20) scale(1,1.03)" font-size="9.5" text-anchor="middle" >Time, <tspan font-style="italic">t</tspan> (ns)</text>
<text transform="translate(8.6,175.6) rotate(-90) scale(1,1.17)" font-size="9.6">Entropy,</text>
<g transform="translate(1.20,136.00) rotate(-90) scale(0.630,0.780)" fill="none" stroke="#111" stroke-width="1.206" stroke-linecap="round" stroke-linejoin="round"><path d="M8.2,1.6 Q7.6,0.1 5.4,0.2 Q2,0.5 2.6,3.2 Q3.2,4.6 5.2,5.4 Q7.8,6.6 7,8.4 Q6,10 3,9.8 Q0.8,9.6 0.6,8.0"/></g>
<text x="-0.3" y="9.5" font-size="13.2" font-weight="bold" fill="#000" stroke="#000" stroke-width="0.35">a</text>
<line x1="226.20" y1="186.00" x2="226.20" y2="294.00" stroke="#666" stroke-width="1.0" stroke-dasharray="4 2.5"/>
<line x1="286.30" y1="160.00" x2="286.30" y2="294.00" stroke="#666" stroke-width="1.0" stroke-dasharray="4 2.5"/>
<g transform="translate(48.30,195.50) scale(0.680,0.750)" fill="none" stroke="#111" stroke-width="1.329" stroke-linecap="round" stroke-linejoin="round"><path d="M8.2,1.6 Q7.6,0.1 5.4,0.2 Q2,0.5 2.6,3.2 Q3.2,4.6 5.2,5.4 Q7.8,6.6 7,8.4 Q6,10 3,9.8 Q0.8,9.6 0.6,8.0"/></g>
<text transform="translate(54.30,205.60) scale(1,1.1)" font-size="6.8" text-anchor="start" >pre</text>
<polyline points="56.2,278.0 136.6,273.0 171.3,256.0 191.6,241.0 205.5,210.2 217.1,189.0 226.2,168.5 233.9,141.5 240.6,142.0 246.5,135.3 251.8,157.0 256.5,157.0 260.9,180.0 264.9,188.0 268.6,192.0 272.0,197.5 275.3,190.0 278.3,183.4 281.1,178.0 283.8,172.3 286.4,164.0 303.0,173.0 315.3,151.5 321.4,151.5 338.2,152.6 355.5,141.0 372.3,112.0 390.1,98.0 407.1,80.5" fill="none" stroke="#d9434e" stroke-width="1.9" stroke-dasharray="6.5 3"/>
<rect x="53.1" y="274.9" width="6.2" height="6.2" fill="#d9434e" fill-opacity="0.68" stroke="#d9434e" stroke-width="1.05"/>
<line x1="56.2" y1="274.8" x2="56.2" y2="281.2" stroke="#d9434e" stroke-width="1"/>
<rect x="133.5" y="269.9" width="6.2" height="6.2" fill="#d9434e" fill-opacity="0.68" stroke="#d9434e" stroke-width="1.05"/>
<line x1="136.6" y1="269.8" x2="136.6" y2="276.2" stroke="#d9434e" stroke-width="1"/>
<rect x="168.2" y="252.9" width="6.2" height="6.2" fill="#d9434e" fill-opacity="0.68" stroke="#d9434e" stroke-width="1.05"/>
<line x1="171.3" y1="252.8" x2="171.3" y2="259.2" stroke="#d9434e" stroke-width="1"/>
<rect x="188.5" y="237.9" width="6.2" height="6.2" fill="#d9434e" fill-opacity="0.68" stroke="#d9434e" stroke-width="1.05"/>
<line x1="191.6" y1="237.8" x2="191.6" y2="244.2" stroke="#d9434e" stroke-width="1"/>
<rect x="202.4" y="207.1" width="6.2" height="6.2" fill="#d9434e" fill-opacity="0.68" stroke="#d9434e" stroke-width="1.05"/>
<line x1="205.5" y1="207.0" x2="205.5" y2="213.4" stroke="#d9434e" stroke-width="1"/>
<rect x="214.0" y="185.9" width="6.2" height="6.2" fill="#d9434e" fill-opacity="0.68" stroke="#d9434e" stroke-width="1.05"/>
<line x1="217.1" y1="185.8" x2="217.1" y2="192.2" stroke="#d9434e" stroke-width="1"/>
<rect x="223.1" y="165.4" width="6.2" height="6.2" fill="#d9434e" fill-opacity="0.68" stroke="#d9434e" stroke-width="1.05"/>
<line x1="226.2" y1="165.3" x2="226.2" y2="171.7" stroke="#d9434e" stroke-width="1"/>
<rect x="230.8" y="138.4" width="6.2" height="6.2" fill="#d9434e" fill-opacity="0.68" stroke="#d9434e" stroke-width="1.05"/>
<line x1="233.9" y1="137.5" x2="233.9" y2="145.5" stroke="#d9434e" stroke-width="1"/>
<rect x="237.5" y="138.9" width="6.2" height="6.2" fill="#d9434e" fill-opacity="0.68" stroke="#d9434e" stroke-width="1.05"/>
<line x1="240.6" y1="138.0" x2="240.6" y2="146.0" stroke="#d9434e" stroke-width="1"/>
<rect x="243.4" y="132.2" width="6.2" height="6.2" fill="#d9434e" fill-opacity="0.68" stroke="#d9434e" stroke-width="1.05"/>
<line x1="246.5" y1="131.3" x2="246.5" y2="139.3" stroke="#d9434e" stroke-width="1"/>
<rect x="248.7" y="153.9" width="6.2" height="6.2" fill="#d9434e" fill-opacity="0.68" stroke="#d9434e" stroke-width="1.05"/>
<line x1="251.8" y1="152.5" x2="251.8" y2="161.5" stroke="#d9434e" stroke-width="1"/>
<rect x="253.4" y="153.9" width="6.2" height="6.2" fill="#d9434e" fill-opacity="0.68" stroke="#d9434e" stroke-width="1.05"/>
<line x1="256.5" y1="152.5" x2="256.5" y2="161.5" stroke="#d9434e" stroke-width="1"/>
<rect x="257.8" y="176.9" width="6.2" height="6.2" fill="#d9434e" fill-opacity="0.68" stroke="#d9434e" stroke-width="1.05"/>
<line x1="260.9" y1="176.8" x2="260.9" y2="183.2" stroke="#d9434e" stroke-width="1"/>
<rect x="261.8" y="184.9" width="6.2" height="6.2" fill="#d9434e" fill-opacity="0.68" stroke="#d9434e" stroke-width="1.05"/>
<line x1="264.9" y1="184.8" x2="264.9" y2="191.2" stroke="#d9434e" stroke-width="1"/>
<rect x="265.5" y="188.9" width="6.2" height="6.2" fill="#d9434e" fill-opacity="0.68" stroke="#d9434e" stroke-width="1.05"/>
<line x1="268.6" y1="188.8" x2="268.6" y2="195.2" stroke="#d9434e" stroke-width="1"/>
<rect x="268.9" y="194.4" width="6.2" height="6.2" fill="#d9434e" fill-opacity="0.68" stroke="#d9434e" stroke-width="1.05"/>
<line x1="272.0" y1="194.3" x2="272.0" y2="200.7" stroke="#d9434e" stroke-width="1"/>
<rect x="272.2" y="186.9" width="6.2" height="6.2" fill="#d9434e" fill-opacity="0.68" stroke="#d9434e" stroke-width="1.05"/>
<line x1="275.3" y1="186.8" x2="275.3" y2="193.2" stroke="#d9434e" stroke-width="1"/>
<rect x="275.2" y="180.3" width="6.2" height="6.2" fill="#d9434e" fill-opacity="0.68" stroke="#d9434e" stroke-width="1.05"/>
<line x1="278.3" y1="180.2" x2="278.3" y2="186.6" stroke="#d9434e" stroke-width="1"/>
<rect x="278.0" y="174.9" width="6.2" height="6.2" fill="#d9434e" fill-opacity="0.68" stroke="#d9434e" stroke-width="1.05"/>
<line x1="281.1" y1="174.8" x2="281.1" y2="181.2" stroke="#d9434e" stroke-width="1"/>
<rect x="280.7" y="169.2" width="6.2" height="6.2" fill="#d9434e" fill-opacity="0.68" stroke="#d9434e" stroke-width="1.05"/>
<line x1="283.8" y1="169.1" x2="283.8" y2="175.5" stroke="#d9434e" stroke-width="1"/>
<rect x="283.3" y="160.9" width="6.2" height="6.2" fill="#d9434e" fill-opacity="0.68" stroke="#d9434e" stroke-width="1.05"/>
<line x1="286.4" y1="160.8" x2="286.4" y2="167.2" stroke="#d9434e" stroke-width="1"/>
<rect x="299.9" y="169.9" width="6.2" height="6.2" fill="#d9434e" fill-opacity="0.68" stroke="#d9434e" stroke-width="1.05"/>
<line x1="303.0" y1="167.0" x2="303.0" y2="179.0" stroke="#d9434e" stroke-width="1"/>
<rect x="312.2" y="148.4" width="6.2" height="6.2" fill="#d9434e" fill-opacity="0.68" stroke="#d9434e" stroke-width="1.05"/>
<line x1="315.3" y1="145.0" x2="315.3" y2="158.0" stroke="#d9434e" stroke-width="1"/>
<rect x="318.3" y="148.4" width="6.2" height="6.2" fill="#d9434e" fill-opacity="0.68" stroke="#d9434e" stroke-width="1.05"/>
<line x1="321.4" y1="145.0" x2="321.4" y2="158.0" stroke="#d9434e" stroke-width="1"/>
<rect x="335.1" y="149.5" width="6.2" height="6.2" fill="#d9434e" fill-opacity="0.68" stroke="#d9434e" stroke-width="1.05"/>
<line x1="338.2" y1="147.1" x2="338.2" y2="158.1" stroke="#d9434e" stroke-width="1"/>
<rect x="352.4" y="137.9" width="6.2" height="6.2" fill="#d9434e" fill-opacity="0.68" stroke="#d9434e" stroke-width="1.05"/>
<line x1="355.5" y1="131.5" x2="355.5" y2="150.5" stroke="#d9434e" stroke-width="1"/>
<rect x="369.2" y="108.9" width="6.2" height="6.2" fill="#d9434e" fill-opacity="0.68" stroke="#d9434e" stroke-width="1.05"/>
<line x1="372.3" y1="106.0" x2="372.3" y2="118.0" stroke="#d9434e" stroke-width="1"/>
<rect x="387.0" y="94.9" width="6.2" height="6.2" fill="#d9434e" fill-opacity="0.68" stroke="#d9434e" stroke-width="1.05"/>
<line x1="390.1" y1="92.0" x2="390.1" y2="104.0" stroke="#d9434e" stroke-width="1"/>
<rect x="404.0" y="77.4" width="6.2" height="6.2" fill="#d9434e" fill-opacity="0.68" stroke="#d9434e" stroke-width="1.05"/>
<line x1="407.1" y1="75.0" x2="407.1" y2="86.0" stroke="#d9434e" stroke-width="1"/>
<polyline points="56.2,279.0 136.6,277.8 171.3,255.8 191.6,240.3 205.5,199.0 217.1,194.0 226.2,174.5 233.9,189.5 240.6,174.0 246.5,174.5 251.8,174.5 256.5,175.5 260.9,180.0 264.9,181.0 268.6,183.0 272.0,180.0 275.3,173.3 278.3,167.3 281.1,161.0 283.8,157.0 286.4,154.5 303.0,143.6 315.3,111.3 321.4,111.3 338.2,110.8 355.5,86.5 372.3,66.4 390.1,43.5 407.1,26.0" fill="none" stroke="#3d6396" stroke-width="1.9" stroke-dasharray="6.5 3"/>
<rect x="53.1" y="275.9" width="6.2" height="6.2" fill="#3d6396" fill-opacity="0.62" stroke="#3d6396" stroke-width="1.05"/>
<line x1="56.2" y1="275.8" x2="56.2" y2="282.2" stroke="#3d6396" stroke-width="1"/>
<rect x="133.5" y="274.7" width="6.2" height="6.2" fill="#3d6396" fill-opacity="0.62" stroke="#3d6396" stroke-width="1.05"/>
<line x1="136.6" y1="274.6" x2="136.6" y2="281.0" stroke="#3d6396" stroke-width="1"/>
<rect x="168.2" y="252.7" width="6.2" height="6.2" fill="#3d6396" fill-opacity="0.62" stroke="#3d6396" stroke-width="1.05"/>
<line x1="171.3" y1="252.6" x2="171.3" y2="259.0" stroke="#3d6396" stroke-width="1"/>
<rect x="188.5" y="237.2" width="6.2" height="6.2" fill="#3d6396" fill-opacity="0.62" stroke="#3d6396" stroke-width="1.05"/>
<line x1="191.6" y1="237.1" x2="191.6" y2="243.5" stroke="#3d6396" stroke-width="1"/>
<rect x="202.4" y="195.9" width="6.2" height="6.2" fill="#3d6396" fill-opacity="0.62" stroke="#3d6396" stroke-width="1.05"/>
<line x1="205.5" y1="195.8" x2="205.5" y2="202.2" stroke="#3d6396" stroke-width="1"/>
<rect x="214.0" y="190.9" width="6.2" height="6.2" fill="#3d6396" fill-opacity="0.62" stroke="#3d6396" stroke-width="1.05"/>
<line x1="217.1" y1="190.8" x2="217.1" y2="197.2" stroke="#3d6396" stroke-width="1"/>
<rect x="223.1" y="171.4" width="6.2" height="6.2" fill="#3d6396" fill-opacity="0.62" stroke="#3d6396" stroke-width="1.05"/>
<line x1="226.2" y1="171.3" x2="226.2" y2="177.7" stroke="#3d6396" stroke-width="1"/>
<rect x="230.8" y="186.4" width="6.2" height="6.2" fill="#3d6396" fill-opacity="0.62" stroke="#3d6396" stroke-width="1.05"/>
<line x1="233.9" y1="186.3" x2="233.9" y2="192.7" stroke="#3d6396" stroke-width="1"/>
<rect x="237.5" y="170.9" width="6.2" height="6.2" fill="#3d6396" fill-opacity="0.62" stroke="#3d6396" stroke-width="1.05"/>
<line x1="240.6" y1="170.8" x2="240.6" y2="177.2" stroke="#3d6396" stroke-width="1"/>
<rect x="243.4" y="171.4" width="6.2" height="6.2" fill="#3d6396" fill-opacity="0.62" stroke="#3d6396" stroke-width="1.05"/>
<line x1="246.5" y1="171.3" x2="246.5" y2="177.7" stroke="#3d6396" stroke-width="1"/>
<rect x="248.7" y="171.4" width="6.2" height="6.2" fill="#3d6396" fill-opacity="0.62" stroke="#3d6396" stroke-width="1.05"/>
<line x1="251.8" y1="171.3" x2="251.8" y2="177.7" stroke="#3d6396" stroke-width="1"/>
<rect x="253.4" y="172.4" width="6.2" height="6.2" fill="#3d6396" fill-opacity="0.62" stroke="#3d6396" stroke-width="1.05"/>
<line x1="256.5" y1="172.3" x2="256.5" y2="178.7" stroke="#3d6396" stroke-width="1"/>
<rect x="257.8" y="176.9" width="6.2" height="6.2" fill="#3d6396" fill-opacity="0.62" stroke="#3d6396" stroke-width="1.05"/>
<line x1="260.9" y1="176.8" x2="260.9" y2="183.2" stroke="#3d6396" stroke-width="1"/>
<rect x="261.8" y="177.9" width="6.2" height="6.2" fill="#3d6396" fill-opacity="0.62" stroke="#3d6396" stroke-width="1.05"/>
<line x1="264.9" y1="177.8" x2="264.9" y2="184.2" stroke="#3d6396" stroke-width="1"/>
<rect x="265.5" y="179.9" width="6.2" height="6.2" fill="#3d6396" fill-opacity="0.62" stroke="#3d6396" stroke-width="1.05"/>
<line x1="268.6" y1="179.8" x2="268.6" y2="186.2" stroke="#3d6396" stroke-width="1"/>
<rect x="268.9" y="176.9" width="6.2" height="6.2" fill="#3d6396" fill-opacity="0.62" stroke="#3d6396" stroke-width="1.05"/>
<line x1="272.0" y1="176.8" x2="272.0" y2="183.2" stroke="#3d6396" stroke-width="1"/>
<rect x="272.2" y="170.2" width="6.2" height="6.2" fill="#3d6396" fill-opacity="0.62" stroke="#3d6396" stroke-width="1.05"/>
<line x1="275.3" y1="170.1" x2="275.3" y2="176.5" stroke="#3d6396" stroke-width="1"/>
<rect x="275.2" y="164.2" width="6.2" height="6.2" fill="#3d6396" fill-opacity="0.62" stroke="#3d6396" stroke-width="1.05"/>
<line x1="278.3" y1="164.1" x2="278.3" y2="170.5" stroke="#3d6396" stroke-width="1"/>
<rect x="278.0" y="157.9" width="6.2" height="6.2" fill="#3d6396" fill-opacity="0.62" stroke="#3d6396" stroke-width="1.05"/>
<line x1="281.1" y1="157.8" x2="281.1" y2="164.2" stroke="#3d6396" stroke-width="1"/>
<rect x="280.7" y="153.9" width="6.2" height="6.2" fill="#3d6396" fill-opacity="0.62" stroke="#3d6396" stroke-width="1.05"/>
<line x1="283.8" y1="153.8" x2="283.8" y2="160.2" stroke="#3d6396" stroke-width="1"/>
<rect x="283.3" y="151.4" width="6.2" height="6.2" fill="#3d6396" fill-opacity="0.62" stroke="#3d6396" stroke-width="1.05"/>
<line x1="286.4" y1="151.3" x2="286.4" y2="157.7" stroke="#3d6396" stroke-width="1"/>
<rect x="299.9" y="140.5" width="6.2" height="6.2" fill="#3d6396" fill-opacity="0.62" stroke="#3d6396" stroke-width="1.05"/>
<line x1="303.0" y1="140.4" x2="303.0" y2="146.8" stroke="#3d6396" stroke-width="1"/>
<rect x="312.2" y="108.2" width="6.2" height="6.2" fill="#3d6396" fill-opacity="0.62" stroke="#3d6396" stroke-width="1.05"/>
<line x1="315.3" y1="108.1" x2="315.3" y2="114.5" stroke="#3d6396" stroke-width="1"/>
<rect x="318.3" y="108.2" width="6.2" height="6.2" fill="#3d6396" fill-opacity="0.62" stroke="#3d6396" stroke-width="1.05"/>
<line x1="321.4" y1="108.1" x2="321.4" y2="114.5" stroke="#3d6396" stroke-width="1"/>
<rect x="335.1" y="107.7" width="6.2" height="6.2" fill="#3d6396" fill-opacity="0.62" stroke="#3d6396" stroke-width="1.05"/>
<line x1="338.2" y1="107.6" x2="338.2" y2="114.0" stroke="#3d6396" stroke-width="1"/>
<rect x="352.4" y="83.4" width="6.2" height="6.2" fill="#3d6396" fill-opacity="0.62" stroke="#3d6396" stroke-width="1.05"/>
<line x1="355.5" y1="83.3" x2="355.5" y2="89.7" stroke="#3d6396" stroke-width="1"/>
<rect x="369.2" y="63.3" width="6.2" height="6.2" fill="#3d6396" fill-opacity="0.62" stroke="#3d6396" stroke-width="1.05"/>
<line x1="372.3" y1="63.2" x2="372.3" y2="69.6" stroke="#3d6396" stroke-width="1"/>
<rect x="387.0" y="40.4" width="6.2" height="6.2" fill="#3d6396" fill-opacity="0.62" stroke="#3d6396" stroke-width="1.05"/>
<line x1="390.1" y1="40.3" x2="390.1" y2="46.7" stroke="#3d6396" stroke-width="1"/>
<rect x="404.0" y="22.9" width="6.2" height="6.2" fill="#3d6396" fill-opacity="0.62" stroke="#3d6396" stroke-width="1.05"/>
<line x1="407.1" y1="22.8" x2="407.1" y2="29.2" stroke="#3d6396" stroke-width="1"/>
<polyline points="56.2,281.0 136.6,274.0 171.3,245.5 191.6,234.0 205.5,216.4 217.1,199.0 226.2,193.5 233.9,183.6 240.6,191.0 246.5,180.5 251.8,187.0 256.5,181.0 260.9,190.0 264.9,193.0 268.6,196.0 272.0,190.0 275.3,178.0 278.3,171.7 281.1,165.5 283.8,160.3 286.4,156.5 303.0,152.3 315.3,124.7 321.4,122.3 338.2,111.2 355.5,97.4 372.3,80.5 390.1,63.0 407.1,48.3" fill="none" stroke="#3dbd9f" stroke-width="1.9" stroke-dasharray="6.5 3"/>
<rect x="53.1" y="277.9" width="6.2" height="6.2" fill="#3dbd9f" fill-opacity="0.75" stroke="#3dbd9f" stroke-width="1.05"/>
<line x1="56.2" y1="277.8" x2="56.2" y2="284.2" stroke="#3dbd9f" stroke-width="1"/>
<rect x="133.5" y="270.9" width="6.2" height="6.2" fill="#3dbd9f" fill-opacity="0.75" stroke="#3dbd9f" stroke-width="1.05"/>
<line x1="136.6" y1="270.8" x2="136.6" y2="277.2" stroke="#3dbd9f" stroke-width="1"/>
<rect x="168.2" y="242.4" width="6.2" height="6.2" fill="#3dbd9f" fill-opacity="0.75" stroke="#3dbd9f" stroke-width="1.05"/>
<line x1="171.3" y1="242.3" x2="171.3" y2="248.7" stroke="#3dbd9f" stroke-width="1"/>
<rect x="188.5" y="230.9" width="6.2" height="6.2" fill="#3dbd9f" fill-opacity="0.75" stroke="#3dbd9f" stroke-width="1.05"/>
<line x1="191.6" y1="230.8" x2="191.6" y2="237.2" stroke="#3dbd9f" stroke-width="1"/>
<rect x="202.4" y="213.3" width="6.2" height="6.2" fill="#3dbd9f" fill-opacity="0.75" stroke="#3dbd9f" stroke-width="1.05"/>
<line x1="205.5" y1="213.2" x2="205.5" y2="219.6" stroke="#3dbd9f" stroke-width="1"/>
<rect x="214.0" y="195.9" width="6.2" height="6.2" fill="#3dbd9f" fill-opacity="0.75" stroke="#3dbd9f" stroke-width="1.05"/>
<line x1="217.1" y1="195.8" x2="217.1" y2="202.2" stroke="#3dbd9f" stroke-width="1"/>
<rect x="223.1" y="190.4" width="6.2" height="6.2" fill="#3dbd9f" fill-opacity="0.75" stroke="#3dbd9f" stroke-width="1.05"/>
<line x1="226.2" y1="190.3" x2="226.2" y2="196.7" stroke="#3dbd9f" stroke-width="1"/>
<rect x="230.8" y="180.5" width="6.2" height="6.2" fill="#3dbd9f" fill-opacity="0.75" stroke="#3dbd9f" stroke-width="1.05"/>
<line x1="233.9" y1="180.4" x2="233.9" y2="186.8" stroke="#3dbd9f" stroke-width="1"/>
<rect x="237.5" y="187.9" width="6.2" height="6.2" fill="#3dbd9f" fill-opacity="0.75" stroke="#3dbd9f" stroke-width="1.05"/>
<line x1="240.6" y1="187.8" x2="240.6" y2="194.2" stroke="#3dbd9f" stroke-width="1"/>
<rect x="243.4" y="177.4" width="6.2" height="6.2" fill="#3dbd9f" fill-opacity="0.75" stroke="#3dbd9f" stroke-width="1.05"/>
<line x1="246.5" y1="177.3" x2="246.5" y2="183.7" stroke="#3dbd9f" stroke-width="1"/>
<rect x="248.7" y="183.9" width="6.2" height="6.2" fill="#3dbd9f" fill-opacity="0.75" stroke="#3dbd9f" stroke-width="1.05"/>
<line x1="251.8" y1="183.8" x2="251.8" y2="190.2" stroke="#3dbd9f" stroke-width="1"/>
<rect x="253.4" y="177.9" width="6.2" height="6.2" fill="#3dbd9f" fill-opacity="0.75" stroke="#3dbd9f" stroke-width="1.05"/>
<line x1="256.5" y1="177.8" x2="256.5" y2="184.2" stroke="#3dbd9f" stroke-width="1"/>
<rect x="257.8" y="186.9" width="6.2" height="6.2" fill="#3dbd9f" fill-opacity="0.75" stroke="#3dbd9f" stroke-width="1.05"/>
<line x1="260.9" y1="186.8" x2="260.9" y2="193.2" stroke="#3dbd9f" stroke-width="1"/>
<rect x="261.8" y="189.9" width="6.2" height="6.2" fill="#3dbd9f" fill-opacity="0.75" stroke="#3dbd9f" stroke-width="1.05"/>
<line x1="264.9" y1="189.8" x2="264.9" y2="196.2" stroke="#3dbd9f" stroke-width="1"/>
<rect x="265.5" y="192.9" width="6.2" height="6.2" fill="#3dbd9f" fill-opacity="0.75" stroke="#3dbd9f" stroke-width="1.05"/>
<line x1="268.6" y1="192.8" x2="268.6" y2="199.2" stroke="#3dbd9f" stroke-width="1"/>
<rect x="268.9" y="186.9" width="6.2" height="6.2" fill="#3dbd9f" fill-opacity="0.75" stroke="#3dbd9f" stroke-width="1.05"/>
<line x1="272.0" y1="186.8" x2="272.0" y2="193.2" stroke="#3dbd9f" stroke-width="1"/>
<rect x="272.2" y="174.9" width="6.2" height="6.2" fill="#3dbd9f" fill-opacity="0.75" stroke="#3dbd9f" stroke-width="1.05"/>
<line x1="275.3" y1="174.8" x2="275.3" y2="181.2" stroke="#3dbd9f" stroke-width="1"/>
<rect x="275.2" y="168.6" width="6.2" height="6.2" fill="#3dbd9f" fill-opacity="0.75" stroke="#3dbd9f" stroke-width="1.05"/>
<line x1="278.3" y1="168.5" x2="278.3" y2="174.9" stroke="#3dbd9f" stroke-width="1"/>
<rect x="278.0" y="162.4" width="6.2" height="6.2" fill="#3dbd9f" fill-opacity="0.75" stroke="#3dbd9f" stroke-width="1.05"/>
<line x1="281.1" y1="162.3" x2="281.1" y2="168.7" stroke="#3dbd9f" stroke-width="1"/>
<rect x="280.7" y="157.2" width="6.2" height="6.2" fill="#3dbd9f" fill-opacity="0.75" stroke="#3dbd9f" stroke-width="1.05"/>
<line x1="283.8" y1="157.1" x2="283.8" y2="163.5" stroke="#3dbd9f" stroke-width="1"/>
<rect x="283.3" y="153.4" width="6.2" height="6.2" fill="#3dbd9f" fill-opacity="0.75" stroke="#3dbd9f" stroke-width="1.05"/>
<line x1="286.4" y1="153.3" x2="286.4" y2="159.7" stroke="#3dbd9f" stroke-width="1"/>
<rect x="299.9" y="149.2" width="6.2" height="6.2" fill="#3dbd9f" fill-opacity="0.75" stroke="#3dbd9f" stroke-width="1.05"/>
<line x1="303.0" y1="149.1" x2="303.0" y2="155.5" stroke="#3dbd9f" stroke-width="1"/>
<rect x="312.2" y="121.6" width="6.2" height="6.2" fill="#3dbd9f" fill-opacity="0.75" stroke="#3dbd9f" stroke-width="1.05"/>
<line x1="315.3" y1="120.2" x2="315.3" y2="129.2" stroke="#3dbd9f" stroke-width="1"/>
<rect x="318.3" y="119.2" width="6.2" height="6.2" fill="#3dbd9f" fill-opacity="0.75" stroke="#3dbd9f" stroke-width="1.05"/>
<line x1="321.4" y1="117.8" x2="321.4" y2="126.8" stroke="#3dbd9f" stroke-width="1"/>
<rect x="335.1" y="108.1" width="6.2" height="6.2" fill="#3dbd9f" fill-opacity="0.75" stroke="#3dbd9f" stroke-width="1.05"/>
<line x1="338.2" y1="108.0" x2="338.2" y2="114.4" stroke="#3dbd9f" stroke-width="1"/>
<rect x="352.4" y="94.3" width="6.2" height="6.2" fill="#3dbd9f" fill-opacity="0.75" stroke="#3dbd9f" stroke-width="1.05"/>
<line x1="355.5" y1="93.4" x2="355.5" y2="101.4" stroke="#3dbd9f" stroke-width="1"/>
<rect x="369.2" y="77.4" width="6.2" height="6.2" fill="#3dbd9f" fill-opacity="0.75" stroke="#3dbd9f" stroke-width="1.05"/>
<line x1="372.3" y1="75.5" x2="372.3" y2="85.5" stroke="#3dbd9f" stroke-width="1"/>
<rect x="387.0" y="59.9" width="6.2" height="6.2" fill="#3dbd9f" fill-opacity="0.75" stroke="#3dbd9f" stroke-width="1.05"/>
<line x1="390.1" y1="58.5" x2="390.1" y2="67.5" stroke="#3dbd9f" stroke-width="1"/>
<rect x="404.0" y="45.2" width="6.2" height="6.2" fill="#3dbd9f" fill-opacity="0.75" stroke="#3dbd9f" stroke-width="1.05"/>
<line x1="407.1" y1="45.1" x2="407.1" y2="51.5" stroke="#3dbd9f" stroke-width="1"/>
<line x1="39.00" y1="185.80" x2="283.00" y2="185.80" stroke="#3d6396" stroke-width="1.6" stroke-dasharray="7 2.6"/>
<line x1="39.00" y1="190.40" x2="283.00" y2="190.40" stroke="#d9434e" stroke-width="1.6" stroke-dasharray="7 2.6"/>
<g transform="translate(414.20,22.10) scale(0.610,0.730)" fill="none" stroke="#111" stroke-width="1.269" stroke-linecap="round" stroke-linejoin="round"><path d="M0.8,2.8 Q2.2,0.2 6.6,0.3 Q9.6,0.4 9.1,2.6 Q8.6,4.6 5,4.8 Q8.7,4.9 8.1,7.4 Q7.3,9.8 3.5,9.7 Q1,9.6 0.3,8.8"/><path d="M5.4,0.8 Q4.6,5.2 1.4,9.3"/></g>
<g transform="translate(413.90,44.00) scale(0.530,0.770)" fill="none" stroke="#111" stroke-width="1.308" stroke-linecap="round" stroke-linejoin="round"><path d="M8.6,2.4 Q9.4,0.2 7.0,0.3 Q2.2,0.7 1.0,5.8 Q0.4,9.8 4.0,9.6 Q6.0,9.4 7.4,8.0"/></g>
<g transform="translate(413.20,76.90) scale(0.730,0.730)" fill="none" stroke="#111" stroke-width="1.164" stroke-linecap="round" stroke-linejoin="round"><path d="M0.2,9.0 Q1.6,10 3.4,7.6 L8.6,0.3 Q8.2,5 8.4,8.6 Q8.6,9.7 9.8,9.3"/><path d="M3.2,6.6 L8.3,6.2"/></g>
<rect x="292" y="182" width="132" height="112" fill="#fff"/>
<line x1="286.30" y1="179.00" x2="286.30" y2="294.00" stroke="#666" stroke-width="1.0" stroke-dasharray="4 2.5"/>
<rect x="318.6" y="187.7" width="102.69999999999999" height="74.60000000000002" fill="none" stroke="#747474" stroke-width="1"/>
<line x1="315.60" y1="262.30" x2="318.60" y2="262.30" stroke="#747474" stroke-width="1" />
<text transform="translate(312.20,265.80) scale(1,1.17)" font-size="9.4" text-anchor="end" >0</text>
<line x1="315.60" y1="202.70" x2="318.60" y2="202.70" stroke="#747474" stroke-width="1" />
<text transform="translate(312.20,206.20) scale(1,1.17)" font-size="9.4" text-anchor="end" >0.8</text>
<line x1="323.10" y1="262.30" x2="323.10" y2="265.30" stroke="#747474" stroke-width="1" />
<text transform="translate(323.10,276.30) scale(1,1.17)" font-size="9.4" text-anchor="middle" >1</text>
<line x1="354.03" y1="262.30" x2="354.03" y2="265.30" stroke="#747474" stroke-width="1" />
<text transform="translate(354.03,276.30) scale(1,1.17)" font-size="9.4" text-anchor="middle" >2</text>
<line x1="384.96" y1="262.30" x2="384.96" y2="265.30" stroke="#747474" stroke-width="1" />
<text transform="translate(384.96,276.30) scale(1,1.17)" font-size="9.4" text-anchor="middle" >3</text>
<line x1="415.89" y1="262.30" x2="415.89" y2="265.30" stroke="#747474" stroke-width="1" />
<text transform="translate(415.89,276.30) scale(1,1.17)" font-size="9.4" text-anchor="middle" >4</text>
<text transform="translate(369.70,289.30) scale(1,1.0)" font-size="9.85" text-anchor="middle" >Subsystem size <tspan font-style="italic">V</tspan></text>
<g transform="translate(289.50,233.80) rotate(-90) scale(0.690,0.760)" fill="none" stroke="#111" stroke-width="1.517" stroke-linecap="round" stroke-linejoin="round"><path d="M8.2,1.6 Q7.6,0.1 5.4,0.2 Q2,0.5 2.6,3.2 Q3.2,4.6 5.2,5.4 Q7.8,6.6 7,8.4 Q6,10 3,9.8 Q0.8,9.6 0.6,8.0"/></g>
<text transform="translate(298.7,227.2) rotate(-90) scale(1,1.1)" font-size="7">pre</text>
<line x1="323.10" y1="245.50" x2="416.00" y2="196.50" stroke="#d9434e" stroke-width="1.3" />
<line x1="323.10" y1="243.50" x2="416.00" y2="198.00" stroke="#3d6396" stroke-width="1.3" />
<rect x="320.0" y="237.5" width="6.2" height="6.2" fill="#3d6396" fill-opacity="0.35" stroke="#3d6396" stroke-width="0.9"/>
<line x1="323.10" y1="237.60" x2="323.10" y2="243.60" stroke="#3d6396" stroke-width="0.7" />
<rect x="320.0" y="243.9" width="6.2" height="6.2" fill="#d9434e" fill-opacity="0.6" stroke="#d9434e" stroke-width="0.9"/>
<line x1="323.10" y1="244.00" x2="323.10" y2="250.00" stroke="#d9434e" stroke-width="0.7" />
<rect x="350.9" y="223.0" width="6.2" height="6.2" fill="#3d6396" fill-opacity="0.35" stroke="#3d6396" stroke-width="0.9"/>
<line x1="354.00" y1="223.10" x2="354.00" y2="229.10" stroke="#3d6396" stroke-width="0.7" />
<rect x="350.9" y="227.0" width="6.2" height="6.2" fill="#d9434e" fill-opacity="0.6" stroke="#d9434e" stroke-width="0.9"/>
<line x1="354.00" y1="227.10" x2="354.00" y2="233.10" stroke="#d9434e" stroke-width="0.7" />
<rect x="381.9" y="205.9" width="6.2" height="6.2" fill="#3d6396" fill-opacity="0.35" stroke="#3d6396" stroke-width="0.9"/>
<line x1="385.00" y1="206.00" x2="385.00" y2="212.00" stroke="#3d6396" stroke-width="0.7" />
<rect x="381.9" y="208.5" width="6.2" height="6.2" fill="#d9434e" fill-opacity="0.6" stroke="#d9434e" stroke-width="0.9"/>
<line x1="385.00" y1="208.60" x2="385.00" y2="214.60" stroke="#d9434e" stroke-width="0.7" />
<rect x="412.9" y="198.3" width="6.2" height="6.2" fill="#3d6396" fill-opacity="0.35" stroke="#3d6396" stroke-width="0.9"/>
<line x1="416.00" y1="198.40" x2="416.00" y2="204.40" stroke="#3d6396" stroke-width="0.7" />
<rect x="412.9" y="191.1" width="6.2" height="6.2" fill="#d9434e" fill-opacity="0.6" stroke="#d9434e" stroke-width="0.9"/>
<line x1="416.00" y1="191.20" x2="416.00" y2="197.20" stroke="#d9434e" stroke-width="0.7" />
<rect x="393.5" y="233.9" width="6.2" height="6.2" fill="#d9434e" fill-opacity="0.6" stroke="#d9434e" stroke-width="0.9"/>
<line x1="396.60" y1="234.00" x2="396.60" y2="240.00" stroke="#d9434e" stroke-width="0.7" />
<g transform="translate(404.40,233.40) scale(0.700,0.720)" fill="none" stroke="#111" stroke-width="1.197" stroke-linecap="round" stroke-linejoin="round"><path d="M0.2,9.0 Q1.6,10 3.4,7.6 L8.6,0.3 Q8.2,5 8.4,8.6 Q8.6,9.7 9.8,9.3"/><path d="M3.2,6.6 L8.3,6.2"/></g>
<rect x="393.5" y="246.4" width="6.2" height="6.2" fill="#3d6396" fill-opacity="0.35" stroke="#3d6396" stroke-width="0.9"/>
<line x1="396.60" y1="246.50" x2="396.60" y2="252.50" stroke="#3d6396" stroke-width="0.7" />
<g transform="translate(404.40,245.90) scale(0.700,0.720)" fill="none" stroke="#111" stroke-width="1.197" stroke-linecap="round" stroke-linejoin="round"><path d="M0.8,2.8 Q2.2,0.2 6.6,0.3 Q9.6,0.4 9.1,2.6 Q8.6,4.6 5,4.8 Q8.7,4.9 8.1,7.4 Q7.3,9.8 3.5,9.7 Q1,9.6 0.3,8.8"/><path d="M5.4,0.8 Q4.6,5.2 1.4,9.3"/></g>
<rect x="483.5" y="11.4" width="200.79999999999995" height="119.0" fill="none" stroke="#747474" stroke-width="1"/>
<line x1="490.70" y1="130.40" x2="490.70" y2="134.50" stroke="#747474" stroke-width="1" />
<text transform="translate(490.70,147.00) scale(1,1.17)" font-size="9.4" text-anchor="middle" >0</text>
<line x1="490.70" y1="294.70" x2="490.70" y2="298.80" stroke="#747474" stroke-width="1" />
<text transform="translate(490.70,311.80) scale(1,1.17)" font-size="9.4" text-anchor="middle" >0</text>
<line x1="537.00" y1="130.40" x2="537.00" y2="134.50" stroke="#747474" stroke-width="1" />
<text transform="translate(537.00,147.00) scale(1,1.17)" font-size="9.4" text-anchor="middle" >25</text>
<line x1="537.00" y1="294.70" x2="537.00" y2="298.80" stroke="#747474" stroke-width="1" />
<text transform="translate(537.00,311.80) scale(1,1.17)" font-size="9.4" text-anchor="middle" >25</text>
<line x1="583.30" y1="130.40" x2="583.30" y2="134.50" stroke="#747474" stroke-width="1" />
<text transform="translate(583.30,147.00) scale(1,1.17)" font-size="9.4" text-anchor="middle" >50</text>
<line x1="583.30" y1="294.70" x2="583.30" y2="298.80" stroke="#747474" stroke-width="1" />
<text transform="translate(583.30,311.80) scale(1,1.17)" font-size="9.4" text-anchor="middle" >50</text>
<line x1="629.60" y1="130.40" x2="629.60" y2="134.50" stroke="#747474" stroke-width="1" />
<text transform="translate(629.60,147.00) scale(1,1.17)" font-size="9.4" text-anchor="middle" >75</text>
<line x1="629.60" y1="294.70" x2="629.60" y2="298.80" stroke="#747474" stroke-width="1" />
<text transform="translate(629.60,311.80) scale(1,1.17)" font-size="9.4" text-anchor="middle" >75</text>
<line x1="675.90" y1="130.40" x2="675.90" y2="134.50" stroke="#747474" stroke-width="1" />
<text transform="translate(675.90,147.00) scale(1,1.17)" font-size="9.4" text-anchor="middle" >100</text>
<line x1="675.90" y1="294.70" x2="675.90" y2="298.80" stroke="#747474" stroke-width="1" />
<text transform="translate(675.90,311.80) scale(1,1.17)" font-size="9.4" text-anchor="middle" >100</text>
<text transform="translate(584.00,162.80) scale(1,1.03)" font-size="9.5" text-anchor="middle" >Time, <tspan font-style="italic">t</tspan> (ns)</text>
<text transform="translate(584.00,326.60) scale(1,1.03)" font-size="9.5" text-anchor="middle" >Time, <tspan font-style="italic">t</tspan> (ns)</text>
<line x1="479.30" y1="52.00" x2="483.50" y2="52.00" stroke="#747474" stroke-width="1" />
<text transform="translate(476,56.00) scale(1,1.1)" font-size="9.4" text-anchor="end">10<tspan font-size="6.3" dy="-4.1">−2</tspan></text>
<line x1="479.30" y1="100.90" x2="483.50" y2="100.90" stroke="#747474" stroke-width="1" />
<text transform="translate(476,104.90) scale(1,1.1)" font-size="9.4" text-anchor="end">10<tspan font-size="6.3" dy="-4.1">−4</tspan></text>
<text transform="translate(450.20,71.20) rotate(-90) scale(1,1.03)" font-size="9.9" text-anchor="middle" >Entropy per site</text>
<text x="441.6" y="9.5" font-size="13.2" font-weight="bold" fill="#000" stroke="#000" stroke-width="0.35">b</text>
<line x1="492.6" y1="61.2" x2="492.6" y2="70.2" stroke="#8dc3df" stroke-width="1.5" stroke-opacity="0.75"/>
<line x1="500.0" y1="52.0" x2="500.0" y2="61.0" stroke="#8dc3df" stroke-width="1.5" stroke-opacity="0.75"/>
<line x1="509.2" y1="45.8" x2="509.2" y2="54.8" stroke="#8dc3df" stroke-width="1.5" stroke-opacity="0.75"/>
<line x1="518.5" y1="38.8" x2="518.5" y2="47.8" stroke="#8dc3df" stroke-width="1.5" stroke-opacity="0.75"/>
<line x1="527.7" y1="35.3" x2="527.7" y2="44.3" stroke="#8dc3df" stroke-width="1.5" stroke-opacity="0.75"/>
<line x1="537.0" y1="35.3" x2="537.0" y2="44.3" stroke="#8dc3df" stroke-width="1.5" stroke-opacity="0.75"/>
<line x1="546.3" y1="36.9" x2="546.3" y2="45.9" stroke="#8dc3df" stroke-width="1.5" stroke-opacity="0.75"/>
<line x1="555.5" y1="33.2" x2="555.5" y2="42.2" stroke="#8dc3df" stroke-width="1.5" stroke-opacity="0.75"/>
<line x1="564.8" y1="36.2" x2="564.8" y2="45.2" stroke="#8dc3df" stroke-width="1.5" stroke-opacity="0.75"/>
<line x1="574.0" y1="34.0" x2="574.0" y2="43.0" stroke="#8dc3df" stroke-width="1.5" stroke-opacity="0.75"/>
<line x1="583.3" y1="38.3" x2="583.3" y2="47.3" stroke="#8dc3df" stroke-width="1.5" stroke-opacity="0.75"/>
<line x1="592.6" y1="38.1" x2="592.6" y2="47.1" stroke="#8dc3df" stroke-width="1.5" stroke-opacity="0.75"/>
<line x1="601.8" y1="46.1" x2="601.8" y2="130.4" stroke="#8dc3df" stroke-width="1.5" stroke-opacity="0.75"/>
<line x1="611.1" y1="51" x2="611.1" y2="130.4" stroke="#8dc3df" stroke-width="1.5" stroke-opacity="0.75"/>
<line x1="620.3" y1="50" x2="620.3" y2="130.4" stroke="#8dc3df" stroke-width="1.5" stroke-opacity="0.75"/>
<line x1="638.9" y1="50" x2="638.9" y2="130.4" stroke="#8dc3df" stroke-width="1.5" stroke-opacity="0.75"/>
<line x1="657.4" y1="45.8" x2="657.4" y2="130.4" stroke="#8dc3df" stroke-width="1.5" stroke-opacity="0.75"/>
<line x1="675.9" y1="51.4" x2="675.9" y2="130.4" stroke="#8dc3df" stroke-width="1.5" stroke-opacity="0.75"/>
<line x1="494.43" y1="63.36" x2="498.08" y2="58.84" stroke="#8dc3df" stroke-width="2.0" stroke-dasharray="5 3" />
<line x1="502.45" y1="54.83" x2="506.73" y2="51.97" stroke="#8dc3df" stroke-width="2.0" stroke-dasharray="5 3" />
<line x1="511.61" y1="48.49" x2="516.09" y2="45.11" stroke="#8dc3df" stroke-width="2.0" stroke-dasharray="5 3" />
<line x1="521.29" y1="42.24" x2="524.93" y2="40.86" stroke="#8dc3df" stroke-width="2.0" stroke-dasharray="5 3" />
<line x1="530.74" y1="39.80" x2="534.00" y2="39.80" stroke="#8dc3df" stroke-width="2.0" stroke-dasharray="5 3" />
<line x1="539.96" y1="40.31" x2="543.30" y2="40.89" stroke="#8dc3df" stroke-width="2.0" stroke-dasharray="5 3" />
<line x1="549.05" y1="40.29" x2="552.73" y2="38.81" stroke="#8dc3df" stroke-width="2.0" stroke-dasharray="5 3" />
<line x1="558.37" y1="38.62" x2="561.93" y2="39.78" stroke="#8dc3df" stroke-width="2.0" stroke-dasharray="5 3" />
<line x1="567.70" y1="40.01" x2="571.12" y2="39.19" stroke="#8dc3df" stroke-width="2.0" stroke-dasharray="5 3" />
<line x1="576.76" y1="39.76" x2="580.58" y2="41.54" stroke="#8dc3df" stroke-width="2.0" stroke-dasharray="5 3" />
<line x1="586.30" y1="42.74" x2="589.56" y2="42.66" stroke="#8dc3df" stroke-width="2.0" stroke-dasharray="5 3" />
<line x1="594.46" y1="44.92" x2="599.92" y2="51.58" stroke="#8dc3df" stroke-width="2.0" stroke-dasharray="5 3" />
<line x1="603.03" y1="56.65" x2="609.87" y2="72.25" stroke="#8dc3df" stroke-width="2.0" stroke-dasharray="5 3" />
<line x1="613.44" y1="73.14" x2="617.98" y2="69.56" stroke="#8dc3df" stroke-width="2.0" stroke-dasharray="5 3" />
<line x1="623.28" y1="67.13" x2="635.92" y2="64.67" stroke="#8dc3df" stroke-width="2.0" stroke-dasharray="5 3" />
<line x1="641.44" y1="62.57" x2="654.80" y2="54.63" stroke="#8dc3df" stroke-width="2.0" stroke-dasharray="5 3" />
<line x1="658.73" y1="55.78" x2="674.55" y2="87.02" stroke="#8dc3df" stroke-width="2.0" stroke-dasharray="5 3" />
<circle cx="492.6" cy="65.7" r="3.25" fill="#8dc3df" fill-opacity="0.7" stroke="#8dc3df" stroke-width="0.9"/><circle cx="492.6" cy="65.7" r="1.2" fill="none" stroke="#b5d8ea" stroke-width="0.6"/>
<circle cx="500.0" cy="56.5" r="3.25" fill="#8dc3df" fill-opacity="0.7" stroke="#8dc3df" stroke-width="0.9"/><circle cx="500.0" cy="56.5" r="1.2" fill="none" stroke="#b5d8ea" stroke-width="0.6"/>
<circle cx="509.2" cy="50.3" r="3.25" fill="#8dc3df" fill-opacity="0.7" stroke="#8dc3df" stroke-width="0.9"/><circle cx="509.2" cy="50.3" r="1.2" fill="none" stroke="#b5d8ea" stroke-width="0.6"/>
<circle cx="518.5" cy="43.3" r="3.25" fill="#8dc3df" fill-opacity="0.7" stroke="#8dc3df" stroke-width="0.9"/><circle cx="518.5" cy="43.3" r="1.2" fill="none" stroke="#b5d8ea" stroke-width="0.6"/>
<circle cx="527.7" cy="39.8" r="3.25" fill="#8dc3df" fill-opacity="0.7" stroke="#8dc3df" stroke-width="0.9"/><circle cx="527.7" cy="39.8" r="1.2" fill="none" stroke="#b5d8ea" stroke-width="0.6"/>
<circle cx="537.0" cy="39.8" r="3.25" fill="#8dc3df" fill-opacity="0.7" stroke="#8dc3df" stroke-width="0.9"/><circle cx="537.0" cy="39.8" r="1.2" fill="none" stroke="#b5d8ea" stroke-width="0.6"/>
<circle cx="546.3" cy="41.4" r="3.25" fill="#8dc3df" fill-opacity="0.7" stroke="#8dc3df" stroke-width="0.9"/><circle cx="546.3" cy="41.4" r="1.2" fill="none" stroke="#b5d8ea" stroke-width="0.6"/>
<circle cx="555.5" cy="37.7" r="3.25" fill="#8dc3df" fill-opacity="0.7" stroke="#8dc3df" stroke-width="0.9"/><circle cx="555.5" cy="37.7" r="1.2" fill="none" stroke="#b5d8ea" stroke-width="0.6"/>
<circle cx="564.8" cy="40.7" r="3.25" fill="#8dc3df" fill-opacity="0.7" stroke="#8dc3df" stroke-width="0.9"/><circle cx="564.8" cy="40.7" r="1.2" fill="none" stroke="#b5d8ea" stroke-width="0.6"/>
<circle cx="574.0" cy="38.5" r="3.25" fill="#8dc3df" fill-opacity="0.7" stroke="#8dc3df" stroke-width="0.9"/><circle cx="574.0" cy="38.5" r="1.2" fill="none" stroke="#b5d8ea" stroke-width="0.6"/>
<circle cx="583.3" cy="42.8" r="3.25" fill="#8dc3df" fill-opacity="0.7" stroke="#8dc3df" stroke-width="0.9"/><circle cx="583.3" cy="42.8" r="1.2" fill="none" stroke="#b5d8ea" stroke-width="0.6"/>
<circle cx="592.6" cy="42.6" r="3.25" fill="#8dc3df" fill-opacity="0.7" stroke="#8dc3df" stroke-width="0.9"/><circle cx="592.6" cy="42.6" r="1.2" fill="none" stroke="#b5d8ea" stroke-width="0.6"/>
<circle cx="601.8" cy="53.9" r="3.25" fill="#8dc3df" fill-opacity="0.7" stroke="#8dc3df" stroke-width="0.9"/><circle cx="601.8" cy="53.9" r="1.2" fill="none" stroke="#b5d8ea" stroke-width="0.6"/>
<circle cx="611.1" cy="75" r="3.25" fill="#8dc3df" fill-opacity="0.7" stroke="#8dc3df" stroke-width="0.9"/><circle cx="611.1" cy="75" r="1.2" fill="none" stroke="#b5d8ea" stroke-width="0.6"/>
<circle cx="620.3" cy="67.7" r="3.25" fill="#8dc3df" fill-opacity="0.7" stroke="#8dc3df" stroke-width="0.9"/><circle cx="620.3" cy="67.7" r="1.2" fill="none" stroke="#b5d8ea" stroke-width="0.6"/>
<circle cx="638.9" cy="64.1" r="3.25" fill="#8dc3df" fill-opacity="0.7" stroke="#8dc3df" stroke-width="0.9"/><circle cx="638.9" cy="64.1" r="1.2" fill="none" stroke="#b5d8ea" stroke-width="0.6"/>
<circle cx="657.4" cy="53.1" r="3.25" fill="#8dc3df" fill-opacity="0.7" stroke="#8dc3df" stroke-width="0.9"/><circle cx="657.4" cy="53.1" r="1.2" fill="none" stroke="#b5d8ea" stroke-width="0.6"/>
<circle cx="675.9" cy="89.7" r="3.25" fill="#8dc3df" fill-opacity="0.7" stroke="#8dc3df" stroke-width="0.9"/><circle cx="675.9" cy="89.7" r="1.2" fill="none" stroke="#b5d8ea" stroke-width="0.6"/>
<line x1="492.6" y1="71.9" x2="492.6" y2="130.4" stroke="#dc5f69" stroke-width="1.5" stroke-opacity="0.7"/>
<line x1="500.0" y1="63" x2="500.0" y2="130.4" stroke="#dc5f69" stroke-width="1.5" stroke-opacity="0.7"/>
<line x1="509.2" y1="35.1" x2="509.2" y2="41.1" stroke="#dc5f69" stroke-width="1.5" stroke-opacity="0.7"/>
<line x1="518.5" y1="34.2" x2="518.5" y2="40.2" stroke="#dc5f69" stroke-width="1.5" stroke-opacity="0.7"/>
<line x1="527.7" y1="27.1" x2="527.7" y2="33.1" stroke="#dc5f69" stroke-width="1.5" stroke-opacity="0.7"/>
<line x1="537.0" y1="24.5" x2="537.0" y2="30.5" stroke="#dc5f69" stroke-width="1.5" stroke-opacity="0.7"/>
<line x1="546.3" y1="20.9" x2="546.3" y2="26.9" stroke="#dc5f69" stroke-width="1.5" stroke-opacity="0.7"/>
<line x1="555.5" y1="21.6" x2="555.5" y2="27.6" stroke="#dc5f69" stroke-width="1.5" stroke-opacity="0.7"/>
<line x1="564.8" y1="19.8" x2="564.8" y2="25.8" stroke="#dc5f69" stroke-width="1.5" stroke-opacity="0.7"/>
<line x1="574.0" y1="20.7" x2="574.0" y2="26.7" stroke="#dc5f69" stroke-width="1.5" stroke-opacity="0.7"/>
<line x1="583.3" y1="19.4" x2="583.3" y2="25.4" stroke="#dc5f69" stroke-width="1.5" stroke-opacity="0.7"/>
<line x1="592.6" y1="19.1" x2="592.6" y2="25.1" stroke="#dc5f69" stroke-width="1.5" stroke-opacity="0.7"/>
<line x1="601.8" y1="18.4" x2="601.8" y2="24.4" stroke="#dc5f69" stroke-width="1.5" stroke-opacity="0.7"/>
<line x1="611.1" y1="17.7" x2="611.1" y2="23.7" stroke="#dc5f69" stroke-width="1.5" stroke-opacity="0.7"/>
<line x1="620.3" y1="18.4" x2="620.3" y2="24.4" stroke="#dc5f69" stroke-width="1.5" stroke-opacity="0.7"/>
<line x1="629.6" y1="18.2" x2="629.6" y2="24.2" stroke="#dc5f69" stroke-width="1.5" stroke-opacity="0.7"/>
<line x1="638.9" y1="17.5" x2="638.9" y2="23.5" stroke="#dc5f69" stroke-width="1.5" stroke-opacity="0.7"/>
<line x1="648.1" y1="16.8" x2="648.1" y2="22.8" stroke="#dc5f69" stroke-width="1.5" stroke-opacity="0.7"/>
<line x1="657.4" y1="17.2" x2="657.4" y2="23.2" stroke="#dc5f69" stroke-width="1.5" stroke-opacity="0.7"/>
<line x1="666.6" y1="15.7" x2="666.6" y2="21.7" stroke="#dc5f69" stroke-width="1.5" stroke-opacity="0.7"/>
<line x1="675.9" y1="14.7" x2="675.9" y2="20.7" stroke="#dc5f69" stroke-width="1.5" stroke-opacity="0.7"/>
<line x1="500.35" y1="121.62" x2="508.83" y2="41.78" stroke="#dc5f69" stroke-width="2.0" stroke-dasharray="5 3" stroke-opacity="0.8"/>
<line x1="521.42" y1="34.95" x2="524.80" y2="32.35" stroke="#dc5f69" stroke-width="2.0" stroke-dasharray="5 3" stroke-opacity="0.8"/>
<line x1="540.45" y1="26.16" x2="542.81" y2="25.24" stroke="#dc5f69" stroke-width="2.0" stroke-dasharray="5 3" stroke-opacity="0.8"/>
<circle cx="492.6" cy="125.3" r="3.25" fill="#dc5f69" fill-opacity="0.75" stroke="#dc5f69" stroke-width="0.9"/><circle cx="492.6" cy="125.3" r="1.2" fill="none" stroke="#ea9aa0" stroke-width="0.6"/>
<circle cx="500.0" cy="125.3" r="3.25" fill="#dc5f69" fill-opacity="0.75" stroke="#dc5f69" stroke-width="0.9"/><circle cx="500.0" cy="125.3" r="1.2" fill="none" stroke="#ea9aa0" stroke-width="0.6"/>
<circle cx="509.2" cy="38.1" r="3.25" fill="#dc5f69" fill-opacity="0.75" stroke="#dc5f69" stroke-width="0.9"/><circle cx="509.2" cy="38.1" r="1.2" fill="none" stroke="#ea9aa0" stroke-width="0.6"/>
<circle cx="518.5" cy="37.2" r="3.25" fill="#dc5f69" fill-opacity="0.75" stroke="#dc5f69" stroke-width="0.9"/><circle cx="518.5" cy="37.2" r="1.2" fill="none" stroke="#ea9aa0" stroke-width="0.6"/>
<circle cx="527.7" cy="30.1" r="3.25" fill="#dc5f69" fill-opacity="0.75" stroke="#dc5f69" stroke-width="0.9"/><circle cx="527.7" cy="30.1" r="1.2" fill="none" stroke="#ea9aa0" stroke-width="0.6"/>
<circle cx="537.0" cy="27.5" r="3.25" fill="#dc5f69" fill-opacity="0.75" stroke="#dc5f69" stroke-width="0.9"/><circle cx="537.0" cy="27.5" r="1.2" fill="none" stroke="#ea9aa0" stroke-width="0.6"/>
<circle cx="546.3" cy="23.9" r="3.25" fill="#dc5f69" fill-opacity="0.75" stroke="#dc5f69" stroke-width="0.9"/><circle cx="546.3" cy="23.9" r="1.2" fill="none" stroke="#ea9aa0" stroke-width="0.6"/>
<circle cx="555.5" cy="24.6" r="3.25" fill="#dc5f69" fill-opacity="0.75" stroke="#dc5f69" stroke-width="0.9"/><circle cx="555.5" cy="24.6" r="1.2" fill="none" stroke="#ea9aa0" stroke-width="0.6"/>
<circle cx="564.8" cy="22.8" r="3.25" fill="#dc5f69" fill-opacity="0.75" stroke="#dc5f69" stroke-width="0.9"/><circle cx="564.8" cy="22.8" r="1.2" fill="none" stroke="#ea9aa0" stroke-width="0.6"/>
<circle cx="574.0" cy="23.7" r="3.25" fill="#dc5f69" fill-opacity="0.75" stroke="#dc5f69" stroke-width="0.9"/><circle cx="574.0" cy="23.7" r="1.2" fill="none" stroke="#ea9aa0" stroke-width="0.6"/>
<circle cx="583.3" cy="22.4" r="3.25" fill="#dc5f69" fill-opacity="0.75" stroke="#dc5f69" stroke-width="0.9"/><circle cx="583.3" cy="22.4" r="1.2" fill="none" stroke="#ea9aa0" stroke-width="0.6"/>
<circle cx="592.6" cy="22.1" r="3.25" fill="#dc5f69" fill-opacity="0.75" stroke="#dc5f69" stroke-width="0.9"/><circle cx="592.6" cy="22.1" r="1.2" fill="none" stroke="#ea9aa0" stroke-width="0.6"/>
<circle cx="601.8" cy="21.4" r="3.25" fill="#dc5f69" fill-opacity="0.75" stroke="#dc5f69" stroke-width="0.9"/><circle cx="601.8" cy="21.4" r="1.2" fill="none" stroke="#ea9aa0" stroke-width="0.6"/>
<circle cx="611.1" cy="20.7" r="3.25" fill="#dc5f69" fill-opacity="0.75" stroke="#dc5f69" stroke-width="0.9"/><circle cx="611.1" cy="20.7" r="1.2" fill="none" stroke="#ea9aa0" stroke-width="0.6"/>
<circle cx="620.3" cy="21.4" r="3.25" fill="#dc5f69" fill-opacity="0.75" stroke="#dc5f69" stroke-width="0.9"/><circle cx="620.3" cy="21.4" r="1.2" fill="none" stroke="#ea9aa0" stroke-width="0.6"/>
<circle cx="629.6" cy="21.2" r="3.25" fill="#dc5f69" fill-opacity="0.75" stroke="#dc5f69" stroke-width="0.9"/><circle cx="629.6" cy="21.2" r="1.2" fill="none" stroke="#ea9aa0" stroke-width="0.6"/>
<circle cx="638.9" cy="20.5" r="3.25" fill="#dc5f69" fill-opacity="0.75" stroke="#dc5f69" stroke-width="0.9"/><circle cx="638.9" cy="20.5" r="1.2" fill="none" stroke="#ea9aa0" stroke-width="0.6"/>
<circle cx="648.1" cy="19.8" r="3.25" fill="#dc5f69" fill-opacity="0.75" stroke="#dc5f69" stroke-width="0.9"/><circle cx="648.1" cy="19.8" r="1.2" fill="none" stroke="#ea9aa0" stroke-width="0.6"/>
<circle cx="657.4" cy="20.2" r="3.25" fill="#dc5f69" fill-opacity="0.75" stroke="#dc5f69" stroke-width="0.9"/><circle cx="657.4" cy="20.2" r="1.2" fill="none" stroke="#ea9aa0" stroke-width="0.6"/>
<circle cx="666.6" cy="18.7" r="3.25" fill="#dc5f69" fill-opacity="0.75" stroke="#dc5f69" stroke-width="0.9"/><circle cx="666.6" cy="18.7" r="1.2" fill="none" stroke="#ea9aa0" stroke-width="0.6"/>
<circle cx="675.9" cy="17.7" r="3.25" fill="#dc5f69" fill-opacity="0.75" stroke="#dc5f69" stroke-width="0.9"/><circle cx="675.9" cy="17.7" r="1.2" fill="none" stroke="#ea9aa0" stroke-width="0.6"/>
<line x1="527.00" y1="81.90" x2="550.80" y2="81.90" stroke="#8dc3df" stroke-width="1.8" stroke-dasharray="4.5 3" stroke-opacity="0.8"/>
<line x1="539.10" y1="76.40" x2="539.10" y2="87.40" stroke="#8dc3df" stroke-width="1.5" />
<circle cx="539.1" cy="81.9" r="3.5" fill="#8dc3df"/>
<text transform="translate(555,85.20) scale(1,1.1)" font-size="10.5" font-style="italic">S<tspan font-size="7.5" dy="2.5">A</tspan></text>
<line x1="527.00" y1="97.70" x2="550.80" y2="97.70" stroke="#dc5f69" stroke-width="1.8" stroke-dasharray="4.5 3" stroke-opacity="0.8"/>
<line x1="539.10" y1="92.20" x2="539.10" y2="103.20" stroke="#dc5f69" stroke-width="1.5" />
<circle cx="539.1" cy="97.7" r="3.5" fill="#dc5f69"/>
<text transform="translate(555,101.00) scale(1,1.1)" font-size="10.5" font-style="italic">S<tspan font-size="7.5" dy="2.5">V</tspan></text>
<rect x="483.5" y="175.5" width="200.79999999999995" height="119.19999999999999" fill="none" stroke="#747474" stroke-width="1"/>
<line x1="479.30" y1="188.80" x2="483.50" y2="188.80" stroke="#747474" stroke-width="1" />
<text transform="translate(476,192.80) scale(1,1.1)" font-size="9.4" text-anchor="end">10<tspan font-size="6.3" dy="-4.1">4</tspan></text>
<line x1="479.30" y1="218.40" x2="483.50" y2="218.40" stroke="#747474" stroke-width="1" />
<text transform="translate(476,222.40) scale(1,1.1)" font-size="9.4" text-anchor="end">10<tspan font-size="6.3" dy="-4.1">2</tspan></text>
<line x1="479.30" y1="248.00" x2="483.50" y2="248.00" stroke="#747474" stroke-width="1" />
<text transform="translate(476,252.00) scale(1,1.1)" font-size="9.4" text-anchor="end">10<tspan font-size="6.3" dy="-4.1">0</tspan></text>
<line x1="479.30" y1="277.60" x2="483.50" y2="277.60" stroke="#747474" stroke-width="1" />
<text transform="translate(476,281.60) scale(1,1.1)" font-size="9.4" text-anchor="end">10<tspan font-size="6.3" dy="-4.1">−2</tspan></text>
<text transform="translate(450.90,235.80) rotate(-90) scale(1,1.06)" font-size="10.4" text-anchor="middle" >S<tspan font-size="7.2" dy="2.4">V</tspan><tspan dy="-2.4">/S</tspan><tspan font-size="7.2" dy="2.4">A</tspan></text>
<text x="441.9" y="176.1" font-size="13.2" font-weight="bold" fill="#000" stroke="#000" stroke-width="0.35">c</text>
<line x1="492.6" y1="251.8" x2="492.6" y2="294.7" stroke="#9e3d46" stroke-width="1.5" stroke-opacity="0.7"/>
<line x1="500.0" y1="251.5" x2="500.0" y2="294.7" stroke="#9e3d46" stroke-width="1.5" stroke-opacity="0.7"/>
<line x1="509.2" y1="237" x2="509.2" y2="245.5" stroke="#9e3d46" stroke-width="1.5" stroke-opacity="0.7"/>
<line x1="518.5" y1="240.3" x2="518.5" y2="248.8" stroke="#9e3d46" stroke-width="1.5" stroke-opacity="0.7"/>
<line x1="527.7" y1="237.4" x2="527.7" y2="245.9" stroke="#9e3d46" stroke-width="1.5" stroke-opacity="0.7"/>
<line x1="537.0" y1="236.4" x2="537.0" y2="244.9" stroke="#9e3d46" stroke-width="1.5" stroke-opacity="0.7"/>
<line x1="546.3" y1="233.2" x2="546.3" y2="241.7" stroke="#9e3d46" stroke-width="1.5" stroke-opacity="0.7"/>
<line x1="555.5" y1="235.7" x2="555.5" y2="244.2" stroke="#9e3d46" stroke-width="1.5" stroke-opacity="0.7"/>
<line x1="564.8" y1="233.2" x2="564.8" y2="241.7" stroke="#9e3d46" stroke-width="1.5" stroke-opacity="0.7"/>
<line x1="574.0" y1="234.7" x2="574.0" y2="243.2" stroke="#9e3d46" stroke-width="1.5" stroke-opacity="0.7"/>
<line x1="583.3" y1="231.8" x2="583.3" y2="240.3" stroke="#9e3d46" stroke-width="1.5" stroke-opacity="0.7"/>
<line x1="592.6" y1="231.4" x2="592.6" y2="239.9" stroke="#9e3d46" stroke-width="1.5" stroke-opacity="0.7"/>
<line x1="601.8" y1="223.7" x2="601.8" y2="294.7" stroke="#9e3d46" stroke-width="1.5" stroke-opacity="0.7"/>
<line x1="611.1" y1="200.4" x2="611.1" y2="294.7" stroke="#9e3d46" stroke-width="1.5" stroke-opacity="0.7"/>
<line x1="620.3" y1="209.1" x2="620.3" y2="294.7" stroke="#9e3d46" stroke-width="1.5" stroke-opacity="0.7"/>
<line x1="638.9" y1="212.6" x2="638.9" y2="294.7" stroke="#9e3d46" stroke-width="1.5" stroke-opacity="0.7"/>
<line x1="657.4" y1="222" x2="657.4" y2="294.7" stroke="#9e3d46" stroke-width="1.5" stroke-opacity="0.7"/>
<line x1="675.9" y1="181.4" x2="675.9" y2="294.7" stroke="#9e3d46" stroke-width="1.5" stroke-opacity="0.7"/>
<line x1="500.66" y1="285.77" x2="508.52" y2="244.63" stroke="#9e3d46" stroke-width="2.0" stroke-dasharray="5 3" stroke-opacity="0.85"/>
<line x1="595.47" y1="233.11" x2="598.91" y2="230.39" stroke="#9e3d46" stroke-width="2.0" stroke-dasharray="5 3" stroke-opacity="0.85"/>
<line x1="603.94" y1="225.07" x2="608.96" y2="217.93" stroke="#9e3d46" stroke-width="2.0" stroke-dasharray="5 3" stroke-opacity="0.85"/>
<line x1="614.38" y1="216.57" x2="617.04" y2="217.93" stroke="#9e3d46" stroke-width="2.0" stroke-dasharray="5 3" stroke-opacity="0.85"/>
<line x1="624.02" y1="219.96" x2="635.18" y2="221.04" stroke="#9e3d46" stroke-width="2.0" stroke-dasharray="5 3" stroke-opacity="0.85"/>
<line x1="642.37" y1="222.57" x2="653.87" y2="226.43" stroke="#9e3d46" stroke-width="2.0" stroke-dasharray="5 3" stroke-opacity="0.85"/>
<line x1="659.68" y1="224.70" x2="673.60" y2="207.20" stroke="#9e3d46" stroke-width="2.0" stroke-dasharray="5 3" stroke-opacity="0.85"/>
<circle cx="492.6" cy="284.3" r="3.25" fill="#9e3d46" fill-opacity="0.8" stroke="#9e3d46" stroke-width="0.9"/><circle cx="492.6" cy="284.3" r="1.2" fill="none" stroke="#c07a80" stroke-width="0.6"/>
<circle cx="500.0" cy="289.4" r="3.25" fill="#9e3d46" fill-opacity="0.8" stroke="#9e3d46" stroke-width="0.9"/><circle cx="500.0" cy="289.4" r="1.2" fill="none" stroke="#c07a80" stroke-width="0.6"/>
<circle cx="509.2" cy="241" r="3.25" fill="#9e3d46" fill-opacity="0.8" stroke="#9e3d46" stroke-width="0.9"/><circle cx="509.2" cy="241" r="1.2" fill="none" stroke="#c07a80" stroke-width="0.6"/>
<circle cx="518.5" cy="244.3" r="3.25" fill="#9e3d46" fill-opacity="0.8" stroke="#9e3d46" stroke-width="0.9"/><circle cx="518.5" cy="244.3" r="1.2" fill="none" stroke="#c07a80" stroke-width="0.6"/>
<circle cx="527.7" cy="241.4" r="3.25" fill="#9e3d46" fill-opacity="0.8" stroke="#9e3d46" stroke-width="0.9"/><circle cx="527.7" cy="241.4" r="1.2" fill="none" stroke="#c07a80" stroke-width="0.6"/>
<circle cx="537.0" cy="240.4" r="3.25" fill="#9e3d46" fill-opacity="0.8" stroke="#9e3d46" stroke-width="0.9"/><circle cx="537.0" cy="240.4" r="1.2" fill="none" stroke="#c07a80" stroke-width="0.6"/>
<circle cx="546.3" cy="237.2" r="3.25" fill="#9e3d46" fill-opacity="0.8" stroke="#9e3d46" stroke-width="0.9"/><circle cx="546.3" cy="237.2" r="1.2" fill="none" stroke="#c07a80" stroke-width="0.6"/>
<circle cx="555.5" cy="239.7" r="3.25" fill="#9e3d46" fill-opacity="0.8" stroke="#9e3d46" stroke-width="0.9"/><circle cx="555.5" cy="239.7" r="1.2" fill="none" stroke="#c07a80" stroke-width="0.6"/>
<circle cx="564.8" cy="237.2" r="3.25" fill="#9e3d46" fill-opacity="0.8" stroke="#9e3d46" stroke-width="0.9"/><circle cx="564.8" cy="237.2" r="1.2" fill="none" stroke="#c07a80" stroke-width="0.6"/>
<circle cx="574.0" cy="238.7" r="3.25" fill="#9e3d46" fill-opacity="0.8" stroke="#9e3d46" stroke-width="0.9"/><circle cx="574.0" cy="238.7" r="1.2" fill="none" stroke="#c07a80" stroke-width="0.6"/>
<circle cx="583.3" cy="235.8" r="3.25" fill="#9e3d46" fill-opacity="0.8" stroke="#9e3d46" stroke-width="0.9"/><circle cx="583.3" cy="235.8" r="1.2" fill="none" stroke="#c07a80" stroke-width="0.6"/>
<circle cx="592.6" cy="235.4" r="3.25" fill="#9e3d46" fill-opacity="0.8" stroke="#9e3d46" stroke-width="0.9"/><circle cx="592.6" cy="235.4" r="1.2" fill="none" stroke="#c07a80" stroke-width="0.6"/>
<circle cx="601.8" cy="228.1" r="3.25" fill="#9e3d46" fill-opacity="0.8" stroke="#9e3d46" stroke-width="0.9"/><circle cx="601.8" cy="228.1" r="1.2" fill="none" stroke="#c07a80" stroke-width="0.6"/>
<circle cx="611.1" cy="214.9" r="3.25" fill="#9e3d46" fill-opacity="0.8" stroke="#9e3d46" stroke-width="0.9"/><circle cx="611.1" cy="214.9" r="1.2" fill="none" stroke="#c07a80" stroke-width="0.6"/>
<circle cx="620.3" cy="219.6" r="3.25" fill="#9e3d46" fill-opacity="0.8" stroke="#9e3d46" stroke-width="0.9"/><circle cx="620.3" cy="219.6" r="1.2" fill="none" stroke="#c07a80" stroke-width="0.6"/>
<circle cx="638.9" cy="221.4" r="3.25" fill="#9e3d46" fill-opacity="0.8" stroke="#9e3d46" stroke-width="0.9"/><circle cx="638.9" cy="221.4" r="1.2" fill="none" stroke="#c07a80" stroke-width="0.6"/>
<circle cx="657.4" cy="227.6" r="3.25" fill="#9e3d46" fill-opacity="0.8" stroke="#9e3d46" stroke-width="0.9"/><circle cx="657.4" cy="227.6" r="1.2" fill="none" stroke="#c07a80" stroke-width="0.6"/>
<circle cx="675.9" cy="204.3" r="3.25" fill="#9e3d46" fill-opacity="0.8" stroke="#9e3d46" stroke-width="0.9"/><circle cx="675.9" cy="204.3" r="1.2" fill="none" stroke="#c07a80" stroke-width="0.6"/></svg></body></html>
